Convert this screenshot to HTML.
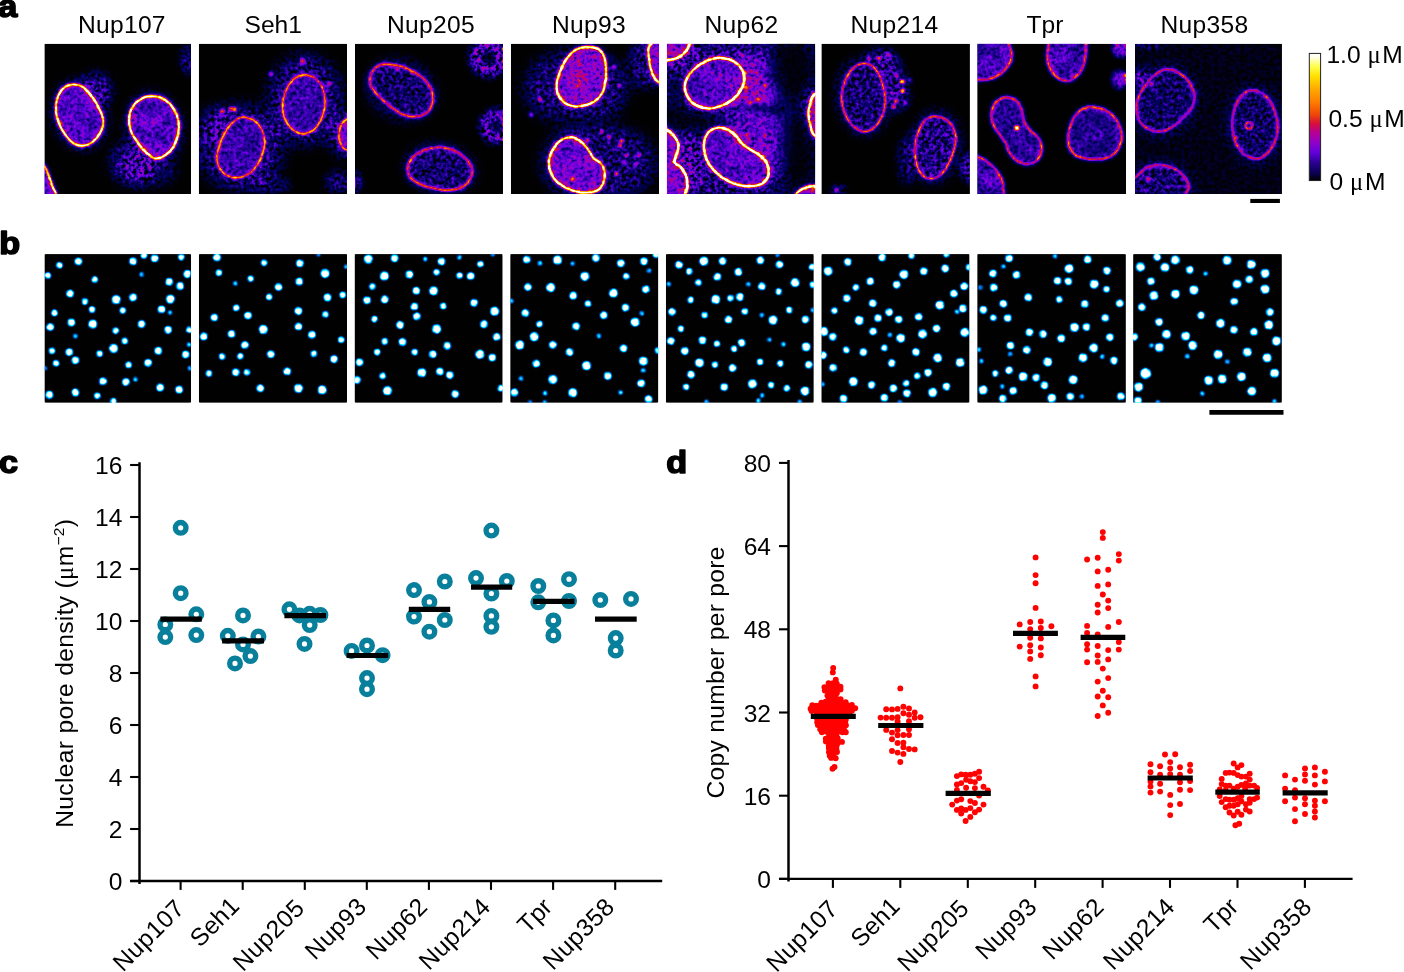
<!DOCTYPE html>
<html lang="en"><head><meta charset="utf-8"><title>Figure</title>
<style>
html,body{margin:0;padding:0;background:#fff;}
body{width:1404px;height:972px;overflow:hidden;position:relative;font-family:"Liberation Sans", Arial, Helvetica, sans-serif;}
svg{position:absolute;left:0;top:0;display:block;}
text{font-family:"Liberation Sans", Arial, Helvetica, sans-serif;fill:#000;}
</style></head><body>
<svg width="1404" height="972" viewBox="0 0 1404 972">
<defs>
<linearGradient id="fire" x1="0" y1="1" x2="0" y2="0">
<stop offset="0" stop-color="#000000"/><stop offset="0.06" stop-color="#0b0052"/><stop offset="0.14" stop-color="#2a0090"/>
<stop offset="0.22" stop-color="#6200dc"/><stop offset="0.30" stop-color="#9200c8"/><stop offset="0.38" stop-color="#b80090"/>
<stop offset="0.45" stop-color="#d8103a"/><stop offset="0.52" stop-color="#ee4808"/><stop offset="0.62" stop-color="#ff7e00"/>
<stop offset="0.72" stop-color="#ffaa00"/><stop offset="0.82" stop-color="#ffe000"/><stop offset="0.90" stop-color="#ffff50"/>
<stop offset="0.97" stop-color="#ffffe8"/><stop offset="1" stop-color="#ffffff"/>
</linearGradient>
</defs>
<rect width="1404" height="972" fill="#fff"/>
<g opacity="0.999">

<text transform="translate(-1.7 17.4) scale(1.07 1)" x="0" y="0" font-size="32" font-weight="bold" stroke="#000" stroke-width="1.6" stroke-linejoin="round">a</text>
<text transform="translate(-0.7 253.9) scale(1.07 1)" x="0" y="0" font-size="32" font-weight="bold" stroke="#000" stroke-width="1.6" stroke-linejoin="round">b</text>
<text transform="translate(-1.1 472.8) scale(1.07 1)" x="0" y="0" font-size="32" font-weight="bold" stroke="#000" stroke-width="1.6" stroke-linejoin="round">c</text>
<text transform="translate(666.3 472.5) scale(1.07 1)" x="0" y="0" font-size="32" font-weight="bold" stroke="#000" stroke-width="1.6" stroke-linejoin="round">d</text>
<text x="77.9" y="33" font-size="24.6" text-anchor="start" letter-spacing="0.3">Nup107</text>
<text x="244.5" y="33" font-size="24.6" text-anchor="start" letter-spacing="0">Seh1</text>
<text x="387.0" y="33" font-size="24.6" text-anchor="start" letter-spacing="0.3">Nup205</text>
<text x="552.0" y="33" font-size="24.6" text-anchor="start" letter-spacing="0.3">Nup93</text>
<text x="704.5" y="33" font-size="24.6" text-anchor="start" letter-spacing="0.3">Nup62</text>
<text x="850.5" y="33" font-size="24.6" text-anchor="start" letter-spacing="0.3">Nup214</text>
<text x="1026.5" y="33" font-size="24.6" text-anchor="start" letter-spacing="0">Tpr</text>
<text x="1160.5" y="33" font-size="24.6" text-anchor="start" letter-spacing="0.3">Nup358</text>
<defs>
<filter id="fireF" filterUnits="userSpaceOnUse" x="40" y="40" width="1250" height="160" color-interpolation-filters="sRGB">
<feTurbulence type="fractalNoise" baseFrequency="0.27" numOctaves="2" seed="11" result="t"/>
<feTurbulence type="fractalNoise" baseFrequency="0.07" numOctaves="1" seed="5" result="tl"/>
<feColorMatrix in="t" type="matrix" values="1 0 0 0 0 1 0 0 0 0 1 0 0 0 0 0 0 0 0 1" result="n1"/>
<feColorMatrix in="t" type="matrix" values="0 1 0 0 0 0 1 0 0 0 0 1 0 0 0 0 0 0 0 1" result="n2"/>
<feColorMatrix in="tl" type="matrix" values="1 0 0 0 0 1 0 0 0 0 1 0 0 0 0 0 0 0 0 1" result="n3"/>
<feConvolveMatrix in="SourceGraphic" order="3" kernelMatrix="1 2 1 2 4 2 1 2 1" divisor="16" edgeMode="duplicate" preserveAlpha="true" result="src"/>
<feColorMatrix in="src" type="matrix" values="1 0 0 0 0 1 0 0 0 0 1 0 0 0 0 0 0 0 0 1" result="ring"/>
<feColorMatrix in="src" type="matrix" values="0 1 0 0 0 0 1 0 0 0 0 1 0 0 0 0 0 0 0 1" result="fil"/>
<feColorMatrix in="src" type="matrix" values="0 0 1 0 0 0 0 1 0 0 0 0 1 0 0 0 0 0 0 1" result="cyt"/>
<feColorMatrix in="t" type="matrix" values="0 0 1 0 0 0 0 1 0 0 0 0 1 0 0 0 0 0 0 1" result="n4"/>
<feComposite in="ring" in2="n1" operator="arithmetic" k1="1.5" k2="0.7" k3="0" k4="0" result="ringa"/>
<feComposite in="ringa" in2="n3" operator="arithmetic" k1="0.6" k2="0.7" k3="0" k4="0" result="ringn"/>
<feComposite in="fil" in2="n4" operator="arithmetic" k1="2.2" k2="-0.1" k3="0" k4="0" result="fila"/>
<feComposite in="fila" in2="n3" operator="arithmetic" k1="1.2" k2="0.4" k3="0" k4="0" result="filn"/>
<feComposite in="cyt" in2="n2" operator="arithmetic" k1="5.2" k2="-1.6" k3="0" k4="0" result="cytn"/>
<feComposite in="ringn" in2="filn" operator="arithmetic" k1="0" k2="1" k3="1" k4="0" result="s1"/>
<feComposite in="s1" in2="cytn" operator="arithmetic" k1="0" k2="1" k3="1" k4="0" result="s2"/>
<feComponentTransfer in="s2" result="lut">
<feFuncR type="table" tableValues="0.000 0.000 0.004 0.098 0.192 0.286 0.384 0.478 0.573 0.635 0.678 0.722 0.765 0.812 0.851 0.898 0.941 0.988 1.000 1.000 1.000 1.000 1.000 1.000 1.000 1.000 1.000 1.000 1.000 1.000 1.000 1.000"/>
<feFuncG type="table" tableValues="0.000 0.000 0.000 0.000 0.000 0.000 0.000 0.000 0.000 0.000 0.000 0.000 0.000 0.055 0.137 0.224 0.310 0.396 0.459 0.522 0.576 0.631 0.686 0.745 0.804 0.859 0.918 0.973 1.000 1.000 1.000 1.000"/>
<feFuncB type="table" tableValues="0.000 0.239 0.376 0.510 0.647 0.753 0.863 0.890 0.824 0.710 0.592 0.478 0.365 0.251 0.137 0.020 0.000 0.000 0.000 0.000 0.000 0.000 0.000 0.000 0.000 0.000 0.000 0.137 0.384 0.627 0.875 1.000"/>
</feComponentTransfer>
<feComposite in="lut" in2="SourceGraphic" operator="in"/>
</filter>
<filter id="b05" x="-50%" y="-50%" width="200%" height="200%"><feGaussianBlur stdDeviation="0.5"/></filter>
<filter id="b07" x="-50%" y="-50%" width="200%" height="200%"><feGaussianBlur stdDeviation="0.7"/></filter>
<filter id="b08" x="-50%" y="-50%" width="200%" height="200%"><feGaussianBlur stdDeviation="0.8"/></filter>
<filter id="b1" x="-50%" y="-50%" width="200%" height="200%"><feGaussianBlur stdDeviation="1.0"/></filter>
<filter id="b15" x="-50%" y="-50%" width="200%" height="200%"><feGaussianBlur stdDeviation="1.5"/></filter>
<filter id="b2" x="-50%" y="-50%" width="200%" height="200%"><feGaussianBlur stdDeviation="2"/></filter>
<filter id="b3" x="-50%" y="-50%" width="200%" height="200%"><feGaussianBlur stdDeviation="3"/></filter>
<filter id="b4" x="-50%" y="-50%" width="200%" height="200%"><feGaussianBlur stdDeviation="4"/></filter>
<filter id="b5" x="-50%" y="-50%" width="200%" height="200%"><feGaussianBlur stdDeviation="5"/></filter>
<filter id="b6" x="-50%" y="-50%" width="200%" height="200%"><feGaussianBlur stdDeviation="6"/></filter>
<filter id="b7" x="-50%" y="-50%" width="200%" height="200%"><feGaussianBlur stdDeviation="7"/></filter>
<filter id="b8" x="-50%" y="-50%" width="200%" height="200%"><feGaussianBlur stdDeviation="8"/></filter>
<clipPath id="ca0"><rect x="44.4" y="43.7" width="146.60" height="150.40"/></clipPath>
<clipPath id="ca1"><rect x="198.8" y="43.7" width="148.30" height="150.40"/></clipPath>
<clipPath id="ca2"><rect x="354.9" y="43.7" width="148.15" height="150.40"/></clipPath>
<clipPath id="ca3"><rect x="510.9" y="43.7" width="148.17" height="150.40"/></clipPath>
<clipPath id="ca4"><rect x="666.9" y="43.7" width="148.40" height="150.40"/></clipPath>
<clipPath id="ca5"><rect x="821.4" y="43.7" width="148.54" height="150.40"/></clipPath>
<clipPath id="ca6"><rect x="977.2" y="43.7" width="148.84" height="150.40"/></clipPath>
<clipPath id="ca7"><rect x="1134.97" y="43.7" width="147.00" height="150.40"/></clipPath>
</defs>
<g filter="url(#fireF)">
<g clip-path="url(#ca0)">
<rect x="44.4" y="43.7" width="146.60" height="150.40" fill="rgb(0,0,0)"/>
<ellipse cx="95" cy="90" rx="17" ry="17" transform="rotate(0 95 90)" fill="#00f" fill-opacity="0.09" filter="url(#b5)" style="mix-blend-mode:screen"/>
<ellipse cx="80" cy="115" rx="29" ry="37" transform="rotate(-15 80 115)" fill="#00f" fill-opacity="0.045" filter="url(#b4)" style="mix-blend-mode:screen"/>
<ellipse cx="154" cy="128" rx="30" ry="38" transform="rotate(-15 154 128)" fill="#00f" fill-opacity="0.045" filter="url(#b4)" style="mix-blend-mode:screen"/>
<ellipse cx="133" cy="163" rx="21" ry="21" transform="rotate(0 133 163)" fill="#00f" fill-opacity="0.1" filter="url(#b6)" style="mix-blend-mode:screen"/>
<ellipse cx="150" cy="170" rx="25" ry="15" transform="rotate(0 150 170)" fill="#00f" fill-opacity="0.06" filter="url(#b6)" style="mix-blend-mode:screen"/>
<ellipse cx="188" cy="60" rx="7" ry="14" transform="rotate(0 188 60)" fill="#00f" fill-opacity="0.08" filter="url(#b3)" style="mix-blend-mode:screen"/>
<path d="M72.1 84.5C75.5 84.2 79.8 85.0 83.2 87.2C86.6 89.4 89.9 93.7 92.7 97.5C95.5 101.3 98.1 106.2 99.9 110.2C101.7 114.2 103.4 117.6 103.5 121.3C103.6 125.0 102.4 128.9 100.6 132.3C98.8 135.7 95.6 139.7 92.7 141.9C89.8 144.2 86.4 145.6 83.2 145.8C80.0 146.1 76.6 145.1 73.7 143.4C70.8 141.7 68.2 138.7 65.8 135.5C63.4 132.3 61.0 128.4 59.4 124.4C57.8 120.4 56.3 115.9 55.9 111.7C55.5 107.5 56.0 102.9 57.1 99.1C58.2 95.3 60.1 91.2 62.6 88.8C65.1 86.4 68.7 84.8 72.1 84.5Z" fill="#000" fill-opacity="0.55" filter="url(#b1)"/>
<path d="M72.1 84.5C75.5 84.2 79.8 85.0 83.2 87.2C86.6 89.4 89.9 93.7 92.7 97.5C95.5 101.3 98.1 106.2 99.9 110.2C101.7 114.2 103.4 117.6 103.5 121.3C103.6 125.0 102.4 128.9 100.6 132.3C98.8 135.7 95.6 139.7 92.7 141.9C89.8 144.2 86.4 145.6 83.2 145.8C80.0 146.1 76.6 145.1 73.7 143.4C70.8 141.7 68.2 138.7 65.8 135.5C63.4 132.3 61.0 128.4 59.4 124.4C57.8 120.4 56.3 115.9 55.9 111.7C55.5 107.5 56.0 102.9 57.1 99.1C58.2 95.3 60.1 91.2 62.6 88.8C65.1 86.4 68.7 84.8 72.1 84.5Z" fill="#0f0" fill-opacity="0.151" stroke="#0f0" stroke-opacity="0.220" stroke-width="3.6" filter="url(#b15)" style="mix-blend-mode:screen"/>
<path d="M153.0 96.2C156.7 96.3 160.6 97.0 164.0 99.1C167.4 101.2 171.2 104.9 173.6 108.6C176.0 112.3 177.8 117.1 178.6 121.3C179.4 125.5 179.1 129.7 178.3 133.9C177.5 138.1 175.7 143.0 173.6 146.6C171.5 150.2 168.5 153.3 165.6 155.3C162.7 157.3 159.3 158.9 156.1 158.5C152.9 158.1 149.8 155.8 146.6 153.0C143.4 150.2 139.7 145.6 137.1 141.9C134.5 138.2 132.2 134.8 130.8 130.8C129.4 126.8 128.7 122.1 128.9 118.1C129.2 114.1 130.1 110.3 132.3 107.0C134.5 103.7 138.5 100.1 141.9 98.3C145.3 96.5 149.3 96.1 153.0 96.2Z" fill="#000" fill-opacity="0.55" filter="url(#b1)"/>
<path d="M153.0 96.2C156.7 96.3 160.6 97.0 164.0 99.1C167.4 101.2 171.2 104.9 173.6 108.6C176.0 112.3 177.8 117.1 178.6 121.3C179.4 125.5 179.1 129.7 178.3 133.9C177.5 138.1 175.7 143.0 173.6 146.6C171.5 150.2 168.5 153.3 165.6 155.3C162.7 157.3 159.3 158.9 156.1 158.5C152.9 158.1 149.8 155.8 146.6 153.0C143.4 150.2 139.7 145.6 137.1 141.9C134.5 138.2 132.2 134.8 130.8 130.8C129.4 126.8 128.7 122.1 128.9 118.1C129.2 114.1 130.1 110.3 132.3 107.0C134.5 103.7 138.5 100.1 141.9 98.3C145.3 96.5 149.3 96.1 153.0 96.2Z" fill="#0f0" fill-opacity="0.151" stroke="#0f0" stroke-opacity="0.220" stroke-width="3.6" filter="url(#b15)" style="mix-blend-mode:screen"/>
<path d="M44.9 167.2C47.2 170.0 47.7 173.3 49.1 176.7C50.5 180.1 51.9 184.2 53.1 187.8C54.3 191.4 57.0 193.5 56.5 198.0C56.0 202.5 55.2 212.2 50.0 215.0C44.8 217.8 29.2 222.5 25.0 215.0C20.8 207.5 23.3 179.2 25.0 170.0C26.7 160.8 31.7 160.5 35.0 160.0C38.3 159.5 42.5 164.4 44.9 167.2Z" fill="#000" fill-opacity="0.55" filter="url(#b1)"/>
<path d="M44.9 167.2C47.2 170.0 47.7 173.3 49.1 176.7C50.5 180.1 51.9 184.2 53.1 187.8C54.3 191.4 57.0 193.5 56.5 198.0C56.0 202.5 55.2 212.2 50.0 215.0C44.8 217.8 29.2 222.5 25.0 215.0C20.8 207.5 23.3 179.2 25.0 170.0C26.7 160.8 31.7 160.5 35.0 160.0C38.3 159.5 42.5 164.4 44.9 167.2Z" fill="#0f0" fill-opacity="0.180" stroke="#0f0" stroke-opacity="0.220" stroke-width="3.6" filter="url(#b15)" style="mix-blend-mode:screen"/>
<path d="M72.1 84.5C75.5 84.2 79.8 85.0 83.2 87.2C86.6 89.4 89.9 93.7 92.7 97.5C95.5 101.3 98.1 106.2 99.9 110.2C101.7 114.2 103.4 117.6 103.5 121.3C103.6 125.0 102.4 128.9 100.6 132.3C98.8 135.7 95.6 139.7 92.7 141.9C89.8 144.2 86.4 145.6 83.2 145.8C80.0 146.1 76.6 145.1 73.7 143.4C70.8 141.7 68.2 138.7 65.8 135.5C63.4 132.3 61.0 128.4 59.4 124.4C57.8 120.4 56.3 115.9 55.9 111.7C55.5 107.5 56.0 102.9 57.1 99.1C58.2 95.3 60.1 91.2 62.6 88.8C65.1 86.4 68.7 84.8 72.1 84.5Z" fill="none" stroke="#f00" stroke-opacity="1.0" stroke-width="1.15" style="mix-blend-mode:screen"/>
<path d="M153.0 96.2C156.7 96.3 160.6 97.0 164.0 99.1C167.4 101.2 171.2 104.9 173.6 108.6C176.0 112.3 177.8 117.1 178.6 121.3C179.4 125.5 179.1 129.7 178.3 133.9C177.5 138.1 175.7 143.0 173.6 146.6C171.5 150.2 168.5 153.3 165.6 155.3C162.7 157.3 159.3 158.9 156.1 158.5C152.9 158.1 149.8 155.8 146.6 153.0C143.4 150.2 139.7 145.6 137.1 141.9C134.5 138.2 132.2 134.8 130.8 130.8C129.4 126.8 128.7 122.1 128.9 118.1C129.2 114.1 130.1 110.3 132.3 107.0C134.5 103.7 138.5 100.1 141.9 98.3C145.3 96.5 149.3 96.1 153.0 96.2Z" fill="none" stroke="#f00" stroke-opacity="1.0" stroke-width="1.15" style="mix-blend-mode:screen"/>
<path d="M44.9 167.2C47.2 170.0 47.7 173.3 49.1 176.7C50.5 180.1 51.9 184.2 53.1 187.8C54.3 191.4 57.0 193.5 56.5 198.0C56.0 202.5 55.2 212.2 50.0 215.0C44.8 217.8 29.2 222.5 25.0 215.0C20.8 207.5 23.3 179.2 25.0 170.0C26.7 160.8 31.7 160.5 35.0 160.0C38.3 159.5 42.5 164.4 44.9 167.2Z" fill="none" stroke="#f00" stroke-opacity="1.0" stroke-width="1.15" style="mix-blend-mode:screen"/>
</g>
<g clip-path="url(#ca1)">
<rect x="198.8" y="43.7" width="148.30" height="150.40" fill="rgb(0,0,0)"/>
<ellipse cx="241" cy="147" rx="42" ry="42" transform="rotate(0 241 147)" fill="#00f" fill-opacity="0.085" filter="url(#b7)" style="mix-blend-mode:screen"/>
<ellipse cx="305" cy="100" rx="36" ry="44" transform="rotate(0 305 100)" fill="#00f" fill-opacity="0.085" filter="url(#b7)" style="mix-blend-mode:screen"/>
<ellipse cx="343" cy="135" rx="14" ry="22" transform="rotate(0 343 135)" fill="#00f" fill-opacity="0.09" filter="url(#b5)" style="mix-blend-mode:screen"/>
<ellipse cx="270" cy="185" rx="20" ry="8" transform="rotate(0 270 185)" fill="#00f" fill-opacity="0.06" filter="url(#b4)" style="mix-blend-mode:screen"/>
<ellipse cx="338" cy="182" rx="12" ry="10" transform="rotate(0 338 182)" fill="#00f" fill-opacity="0.08" filter="url(#b4)" style="mix-blend-mode:screen"/>
<ellipse cx="215" cy="125" rx="15" ry="20" transform="rotate(0 215 125)" fill="#00f" fill-opacity="0.05" filter="url(#b5)" style="mix-blend-mode:screen"/>
<path d="M306.4 75.0C309.2 75.5 313.1 76.4 315.9 78.8C318.7 81.2 321.5 85.7 323.0 89.6C324.5 93.5 325.1 98.0 325.1 102.2C325.1 106.4 324.4 110.8 323.0 114.9C321.6 119.0 319.2 123.8 316.7 126.8C314.2 129.8 311.1 132.0 308.0 133.1C304.9 134.2 301.4 134.2 298.4 133.1C295.3 132.0 292.1 129.6 289.7 126.8C287.3 124.0 285.1 120.3 283.9 116.5C282.7 112.7 282.3 108.0 282.6 103.8C282.9 99.6 284.2 94.9 285.8 91.1C287.4 87.3 289.9 83.3 292.1 80.8C294.3 78.3 296.8 77.1 299.2 76.1C301.6 75.1 303.6 74.5 306.4 75.0Z" fill="#000" fill-opacity="0.55" filter="url(#b1)"/>
<path d="M306.4 75.0C309.2 75.5 313.1 76.4 315.9 78.8C318.7 81.2 321.5 85.7 323.0 89.6C324.5 93.5 325.1 98.0 325.1 102.2C325.1 106.4 324.4 110.8 323.0 114.9C321.6 119.0 319.2 123.8 316.7 126.8C314.2 129.8 311.1 132.0 308.0 133.1C304.9 134.2 301.4 134.2 298.4 133.1C295.3 132.0 292.1 129.6 289.7 126.8C287.3 124.0 285.1 120.3 283.9 116.5C282.7 112.7 282.3 108.0 282.6 103.8C282.9 99.6 284.2 94.9 285.8 91.1C287.4 87.3 289.9 83.3 292.1 80.8C294.3 78.3 296.8 77.1 299.2 76.1C301.6 75.1 303.6 74.5 306.4 75.0Z" fill="#0f0" fill-opacity="0.089" stroke="#0f0" stroke-opacity="0.120" stroke-width="3.6" filter="url(#b15)" style="mix-blend-mode:screen"/>
<path d="M244.6 117.3C247.6 117.4 251.3 118.7 254.1 120.5C256.9 122.3 259.4 125.1 261.2 128.4C263.0 131.7 264.5 136.2 264.8 140.3C265.1 144.4 263.9 149.1 262.8 153.0C261.7 156.9 260.2 160.6 258.0 164.0C255.8 167.4 252.5 171.3 249.3 173.6C246.1 175.8 242.6 177.1 239.0 177.5C235.4 177.9 231.1 177.3 227.9 175.9C224.7 174.5 221.8 171.6 220.0 168.8C218.2 166.0 217.0 162.7 216.8 159.3C216.6 155.9 217.6 151.8 218.6 148.2C219.6 144.6 221.0 141.1 222.6 137.6C224.2 134.1 226.0 130.4 228.2 127.4C230.4 124.4 233.1 121.4 235.8 119.7C238.5 118.0 241.6 117.2 244.6 117.3Z" fill="#000" fill-opacity="0.55" filter="url(#b1)"/>
<path d="M244.6 117.3C247.6 117.4 251.3 118.7 254.1 120.5C256.9 122.3 259.4 125.1 261.2 128.4C263.0 131.7 264.5 136.2 264.8 140.3C265.1 144.4 263.9 149.1 262.8 153.0C261.7 156.9 260.2 160.6 258.0 164.0C255.8 167.4 252.5 171.3 249.3 173.6C246.1 175.8 242.6 177.1 239.0 177.5C235.4 177.9 231.1 177.3 227.9 175.9C224.7 174.5 221.8 171.6 220.0 168.8C218.2 166.0 217.0 162.7 216.8 159.3C216.6 155.9 217.6 151.8 218.6 148.2C219.6 144.6 221.0 141.1 222.6 137.6C224.2 134.1 226.0 130.4 228.2 127.4C230.4 124.4 233.1 121.4 235.8 119.7C238.5 118.0 241.6 117.2 244.6 117.3Z" fill="#0f0" fill-opacity="0.089" stroke="#0f0" stroke-opacity="0.120" stroke-width="3.6" filter="url(#b15)" style="mix-blend-mode:screen"/>
<path d="M346.0 119.7C342.7 121.3 341.6 124.7 340.4 127.6C339.2 130.5 338.8 134.2 338.9 137.1C339.0 140.0 340.0 142.9 341.2 145.0C342.4 147.1 342.9 149.0 346.0 149.8C349.1 150.6 357.7 155.3 360.0 150.0C362.3 144.7 362.3 123.0 360.0 118.0C357.7 113.0 349.3 118.1 346.0 119.7Z" fill="#000" fill-opacity="0.55" filter="url(#b1)"/>
<path d="M346.0 119.7C342.7 121.3 341.6 124.7 340.4 127.6C339.2 130.5 338.8 134.2 338.9 137.1C339.0 140.0 340.0 142.9 341.2 145.0C342.4 147.1 342.9 149.0 346.0 149.8C349.1 150.6 357.7 155.3 360.0 150.0C362.3 144.7 362.3 123.0 360.0 118.0C357.7 113.0 349.3 118.1 346.0 119.7Z" fill="#0f0" fill-opacity="0.153" stroke="#0f0" stroke-opacity="0.120" stroke-width="3.6" filter="url(#b15)" style="mix-blend-mode:screen"/>
<path d="M306.4 75.0C309.2 75.5 313.1 76.4 315.9 78.8C318.7 81.2 321.5 85.7 323.0 89.6C324.5 93.5 325.1 98.0 325.1 102.2C325.1 106.4 324.4 110.8 323.0 114.9C321.6 119.0 319.2 123.8 316.7 126.8C314.2 129.8 311.1 132.0 308.0 133.1C304.9 134.2 301.4 134.2 298.4 133.1C295.3 132.0 292.1 129.6 289.7 126.8C287.3 124.0 285.1 120.3 283.9 116.5C282.7 112.7 282.3 108.0 282.6 103.8C282.9 99.6 284.2 94.9 285.8 91.1C287.4 87.3 289.9 83.3 292.1 80.8C294.3 78.3 296.8 77.1 299.2 76.1C301.6 75.1 303.6 74.5 306.4 75.0Z" fill="none" stroke="#f00" stroke-opacity="0.6" stroke-width="1.10" style="mix-blend-mode:screen"/>
<path d="M244.6 117.3C247.6 117.4 251.3 118.7 254.1 120.5C256.9 122.3 259.4 125.1 261.2 128.4C263.0 131.7 264.5 136.2 264.8 140.3C265.1 144.4 263.9 149.1 262.8 153.0C261.7 156.9 260.2 160.6 258.0 164.0C255.8 167.4 252.5 171.3 249.3 173.6C246.1 175.8 242.6 177.1 239.0 177.5C235.4 177.9 231.1 177.3 227.9 175.9C224.7 174.5 221.8 171.6 220.0 168.8C218.2 166.0 217.0 162.7 216.8 159.3C216.6 155.9 217.6 151.8 218.6 148.2C219.6 144.6 221.0 141.1 222.6 137.6C224.2 134.1 226.0 130.4 228.2 127.4C230.4 124.4 233.1 121.4 235.8 119.7C238.5 118.0 241.6 117.2 244.6 117.3Z" fill="none" stroke="#f00" stroke-opacity="0.6" stroke-width="1.10" style="mix-blend-mode:screen"/>
<path d="M346.0 119.7C342.7 121.3 341.6 124.7 340.4 127.6C339.2 130.5 338.8 134.2 338.9 137.1C339.0 140.0 340.0 142.9 341.2 145.0C342.4 147.1 342.9 149.0 346.0 149.8C349.1 150.6 357.7 155.3 360.0 150.0C362.3 144.7 362.3 123.0 360.0 118.0C357.7 113.0 349.3 118.1 346.0 119.7Z" fill="none" stroke="#f00" stroke-opacity="0.6" stroke-width="1.10" style="mix-blend-mode:screen"/>
<circle cx="231" cy="109" r="1.5" fill="#f00" fill-opacity="0.91" filter="url(#b1)" style="mix-blend-mode:screen"/>
<circle cx="234.5" cy="109.5" r="1.4000000000000001" fill="#f00" fill-opacity="0.85" filter="url(#b1)" style="mix-blend-mode:screen"/>
<circle cx="222.5" cy="111.5" r="1.3" fill="#f00" fill-opacity="1.00" filter="url(#b1)" style="mix-blend-mode:screen"/>
<circle cx="271" cy="74" r="1.7000000000000002" fill="#f00" fill-opacity="0.39" filter="url(#b1)" style="mix-blend-mode:screen"/>
<circle cx="303" cy="61" r="2.3000000000000003" fill="#f00" fill-opacity="0.36" filter="url(#b1)" style="mix-blend-mode:screen"/>
<circle cx="329" cy="84" r="1.4000000000000001" fill="#f00" fill-opacity="0.45" filter="url(#b1)" style="mix-blend-mode:screen"/>
</g>
<g clip-path="url(#ca2)">
<rect x="354.9" y="43.7" width="148.15" height="150.40" fill="rgb(0,0,0)"/>
<ellipse cx="401" cy="90" rx="38" ry="32" transform="rotate(25 401 90)" fill="#00f" fill-opacity="0.035" filter="url(#b4)" style="mix-blend-mode:screen"/>
<ellipse cx="440" cy="169" rx="38" ry="27" transform="rotate(10 440 169)" fill="#00f" fill-opacity="0.035" filter="url(#b4)" style="mix-blend-mode:screen"/>
<ellipse cx="356" cy="182" rx="5" ry="10" transform="rotate(0 356 182)" fill="#00f" fill-opacity="0.1" filter="url(#b3)" style="mix-blend-mode:screen"/>
<circle cx="488.5" cy="58" r="13" fill="none" stroke="#00f" stroke-width="11" stroke-opacity="0.17" filter="url(#b3)" style="mix-blend-mode:screen"/>
<circle cx="497" cy="126" r="11.5" fill="none" stroke="#00f" stroke-width="10" stroke-opacity="0.165" filter="url(#b3)" style="mix-blend-mode:screen"/>
<path d="M384.7 64.2C388.4 64.1 394.2 64.6 399.0 65.8C403.8 67.0 409.0 69.1 413.2 71.3C417.4 73.5 421.2 76.2 424.3 79.2C427.4 82.2 430.1 86.0 431.5 89.6C432.9 93.2 433.4 97.2 433.0 100.6C432.6 104.0 431.1 107.7 429.1 110.2C427.1 112.7 424.4 114.7 421.2 115.7C418.0 116.8 413.8 117.0 410.1 116.5C406.4 116.0 402.7 114.5 399.0 112.5C395.3 110.5 391.5 107.5 387.9 104.6C384.3 101.7 380.5 98.4 377.6 95.1C374.7 91.8 371.5 88.4 370.4 84.8C369.3 81.2 370.1 76.7 371.2 73.7C372.3 70.7 374.6 68.2 376.8 66.6C379.1 65.0 381.0 64.3 384.7 64.2Z" fill="#000" fill-opacity="0.55" filter="url(#b1)"/>
<path d="M384.7 64.2C388.4 64.1 394.2 64.6 399.0 65.8C403.8 67.0 409.0 69.1 413.2 71.3C417.4 73.5 421.2 76.2 424.3 79.2C427.4 82.2 430.1 86.0 431.5 89.6C432.9 93.2 433.4 97.2 433.0 100.6C432.6 104.0 431.1 107.7 429.1 110.2C427.1 112.7 424.4 114.7 421.2 115.7C418.0 116.8 413.8 117.0 410.1 116.5C406.4 116.0 402.7 114.5 399.0 112.5C395.3 110.5 391.5 107.5 387.9 104.6C384.3 101.7 380.5 98.4 377.6 95.1C374.7 91.8 371.5 88.4 370.4 84.8C369.3 81.2 370.1 76.7 371.2 73.7C372.3 70.7 374.6 68.2 376.8 66.6C379.1 65.0 381.0 64.3 384.7 64.2Z" fill="#00f" fill-opacity="0.053" filter="url(#b15)" style="mix-blend-mode:screen"/>
<path d="M384.7 64.2C388.4 64.1 394.2 64.6 399.0 65.8C403.8 67.0 409.0 69.1 413.2 71.3C417.4 73.5 421.2 76.2 424.3 79.2C427.4 82.2 430.1 86.0 431.5 89.6C432.9 93.2 433.4 97.2 433.0 100.6C432.6 104.0 431.1 107.7 429.1 110.2C427.1 112.7 424.4 114.7 421.2 115.7C418.0 116.8 413.8 117.0 410.1 116.5C406.4 116.0 402.7 114.5 399.0 112.5C395.3 110.5 391.5 107.5 387.9 104.6C384.3 101.7 380.5 98.4 377.6 95.1C374.7 91.8 371.5 88.4 370.4 84.8C369.3 81.2 370.1 76.7 371.2 73.7C372.3 70.7 374.6 68.2 376.8 66.6C379.1 65.0 381.0 64.3 384.7 64.2Z" fill="none" stroke="#0f0" stroke-opacity="0.160" stroke-width="3.8" filter="url(#b15)" style="mix-blend-mode:screen"/>
<path d="M441.8 147.4C445.5 147.8 450.4 148.8 454.4 150.6C458.3 152.4 462.6 155.5 465.5 158.5C468.4 161.5 471.1 165.4 471.9 168.8C472.7 172.2 471.9 176.1 470.3 179.1C468.7 182.1 465.8 185.2 462.4 187.0C459.0 188.8 454.2 189.9 449.7 190.2C445.2 190.5 440.1 189.5 435.4 188.6C430.6 187.7 425.3 186.4 421.2 184.7C417.1 183.0 413.1 181.0 410.9 178.3C408.6 175.7 407.6 172.1 407.7 168.8C407.8 165.5 409.4 161.4 411.6 158.5C413.9 155.6 417.8 153.1 421.2 151.4C424.6 149.7 428.9 148.9 432.3 148.2C435.7 147.5 438.1 147.0 441.8 147.4Z" fill="#000" fill-opacity="0.55" filter="url(#b1)"/>
<path d="M441.8 147.4C445.5 147.8 450.4 148.8 454.4 150.6C458.3 152.4 462.6 155.5 465.5 158.5C468.4 161.5 471.1 165.4 471.9 168.8C472.7 172.2 471.9 176.1 470.3 179.1C468.7 182.1 465.8 185.2 462.4 187.0C459.0 188.8 454.2 189.9 449.7 190.2C445.2 190.5 440.1 189.5 435.4 188.6C430.6 187.7 425.3 186.4 421.2 184.7C417.1 183.0 413.1 181.0 410.9 178.3C408.6 175.7 407.6 172.1 407.7 168.8C407.8 165.5 409.4 161.4 411.6 158.5C413.9 155.6 417.8 153.1 421.2 151.4C424.6 149.7 428.9 148.9 432.3 148.2C435.7 147.5 438.1 147.0 441.8 147.4Z" fill="#00f" fill-opacity="0.060" filter="url(#b15)" style="mix-blend-mode:screen"/>
<path d="M441.8 147.4C445.5 147.8 450.4 148.8 454.4 150.6C458.3 152.4 462.6 155.5 465.5 158.5C468.4 161.5 471.1 165.4 471.9 168.8C472.7 172.2 471.9 176.1 470.3 179.1C468.7 182.1 465.8 185.2 462.4 187.0C459.0 188.8 454.2 189.9 449.7 190.2C445.2 190.5 440.1 189.5 435.4 188.6C430.6 187.7 425.3 186.4 421.2 184.7C417.1 183.0 413.1 181.0 410.9 178.3C408.6 175.7 407.6 172.1 407.7 168.8C407.8 165.5 409.4 161.4 411.6 158.5C413.9 155.6 417.8 153.1 421.2 151.4C424.6 149.7 428.9 148.9 432.3 148.2C435.7 147.5 438.1 147.0 441.8 147.4Z" fill="none" stroke="#0f0" stroke-opacity="0.160" stroke-width="3.8" filter="url(#b15)" style="mix-blend-mode:screen"/>
<path d="M384.7 64.2C388.4 64.1 394.2 64.6 399.0 65.8C403.8 67.0 409.0 69.1 413.2 71.3C417.4 73.5 421.2 76.2 424.3 79.2C427.4 82.2 430.1 86.0 431.5 89.6C432.9 93.2 433.4 97.2 433.0 100.6C432.6 104.0 431.1 107.7 429.1 110.2C427.1 112.7 424.4 114.7 421.2 115.7C418.0 116.8 413.8 117.0 410.1 116.5C406.4 116.0 402.7 114.5 399.0 112.5C395.3 110.5 391.5 107.5 387.9 104.6C384.3 101.7 380.5 98.4 377.6 95.1C374.7 91.8 371.5 88.4 370.4 84.8C369.3 81.2 370.1 76.7 371.2 73.7C372.3 70.7 374.6 68.2 376.8 66.6C379.1 65.0 381.0 64.3 384.7 64.2Z" fill="none" stroke="#f00" stroke-opacity="0.33" stroke-width="1.50" style="mix-blend-mode:screen"/>
<path d="M441.8 147.4C445.5 147.8 450.4 148.8 454.4 150.6C458.3 152.4 462.6 155.5 465.5 158.5C468.4 161.5 471.1 165.4 471.9 168.8C472.7 172.2 471.9 176.1 470.3 179.1C468.7 182.1 465.8 185.2 462.4 187.0C459.0 188.8 454.2 189.9 449.7 190.2C445.2 190.5 440.1 189.5 435.4 188.6C430.6 187.7 425.3 186.4 421.2 184.7C417.1 183.0 413.1 181.0 410.9 178.3C408.6 175.7 407.6 172.1 407.7 168.8C407.8 165.5 409.4 161.4 411.6 158.5C413.9 155.6 417.8 153.1 421.2 151.4C424.6 149.7 428.9 148.9 432.3 148.2C435.7 147.5 438.1 147.0 441.8 147.4Z" fill="none" stroke="#f00" stroke-opacity="0.33" stroke-width="1.50" style="mix-blend-mode:screen"/>
<circle cx="397.5" cy="69" r="1.3" fill="#f00" fill-opacity="0.59" filter="url(#b1)" style="mix-blend-mode:screen"/>
<circle cx="412" cy="72" r="1.5" fill="#f00" fill-opacity="0.39" filter="url(#b1)" style="mix-blend-mode:screen"/>
</g>
<g clip-path="url(#ca3)">
<rect x="510.9" y="43.7" width="148.17" height="150.40" fill="rgb(0,0,0)"/>
<ellipse cx="577" cy="88" rx="52" ry="38" transform="rotate(0 577 88)" fill="#00f" fill-opacity="0.07" filter="url(#b7)" style="mix-blend-mode:screen"/>
<ellipse cx="598" cy="163" rx="56" ry="40" transform="rotate(0 598 163)" fill="#00f" fill-opacity="0.07" filter="url(#b7)" style="mix-blend-mode:screen"/>
<ellipse cx="648" cy="62" rx="18" ry="26" transform="rotate(0 648 62)" fill="#00f" fill-opacity="0.08" filter="url(#b5)" style="mix-blend-mode:screen"/>
<ellipse cx="582" cy="81" rx="9" ry="7" transform="rotate(0 582 81)" fill="#0f0" fill-opacity="0.12" filter="url(#b3)" style="mix-blend-mode:screen"/>
<ellipse cx="580" cy="122" rx="55" ry="5" transform="rotate(0 580 122)" fill="#000" fill-opacity="0.6" filter="url(#b4)"/>
<ellipse cx="520" cy="150" rx="9" ry="40" transform="rotate(0 520 150)" fill="#000" fill-opacity="0.7" filter="url(#b5)"/>
<ellipse cx="640" cy="110" rx="18" ry="16" transform="rotate(0 640 110)" fill="#000" fill-opacity="0.6" filter="url(#b6)"/>
<path d="M589.8 47.1C592.6 47.4 596.2 47.6 598.6 49.1C601.0 50.6 602.9 53.2 604.1 56.3C605.3 59.3 605.7 63.5 606.0 67.4C606.3 71.4 606.3 75.8 605.7 80.0C605.1 84.2 604.4 89.1 602.5 92.7C600.6 96.3 597.8 99.2 594.6 101.4C591.4 103.6 587.2 104.9 583.5 105.7C579.8 106.5 575.8 106.9 572.4 106.2C569.0 105.5 565.4 103.7 562.9 101.4C560.4 99.2 558.3 96.0 557.3 92.7C556.3 89.4 556.5 85.3 557.0 81.6C557.5 77.9 559.0 74.2 560.5 70.5C562.0 66.8 563.9 62.7 566.1 59.4C568.4 56.1 571.4 52.7 574.0 50.7C576.6 48.7 579.3 48.1 581.9 47.5C584.5 46.9 587.0 46.8 589.8 47.1Z" fill="#000" fill-opacity="0.55" filter="url(#b1)"/>
<path d="M589.8 47.1C592.6 47.4 596.2 47.6 598.6 49.1C601.0 50.6 602.9 53.2 604.1 56.3C605.3 59.3 605.7 63.5 606.0 67.4C606.3 71.4 606.3 75.8 605.7 80.0C605.1 84.2 604.4 89.1 602.5 92.7C600.6 96.3 597.8 99.2 594.6 101.4C591.4 103.6 587.2 104.9 583.5 105.7C579.8 106.5 575.8 106.9 572.4 106.2C569.0 105.5 565.4 103.7 562.9 101.4C560.4 99.2 558.3 96.0 557.3 92.7C556.3 89.4 556.5 85.3 557.0 81.6C557.5 77.9 559.0 74.2 560.5 70.5C562.0 66.8 563.9 62.7 566.1 59.4C568.4 56.1 571.4 52.7 574.0 50.7C576.6 48.7 579.3 48.1 581.9 47.5C584.5 46.9 587.0 46.8 589.8 47.1Z" fill="#0f0" fill-opacity="0.200" stroke="#0f0" stroke-opacity="0.220" stroke-width="3.6" filter="url(#b15)" style="mix-blend-mode:screen"/>
<path d="M570.8 137.1C574.2 137.1 577.4 139.0 580.3 141.1C583.2 143.2 586.0 146.9 588.3 149.8C590.5 152.7 591.7 156.2 593.8 158.5C595.9 160.8 599.1 161.1 600.9 163.3C602.7 165.6 604.2 168.7 604.6 172.0C605.0 175.3 604.4 180.1 603.3 183.1C602.2 186.1 600.3 188.6 597.8 190.2C595.3 191.8 591.7 192.3 588.3 192.6C584.9 192.9 580.9 192.6 577.2 191.8C573.5 191.0 569.6 189.5 566.1 187.8C562.6 186.1 559.1 184.1 556.5 181.5C553.9 178.9 551.8 175.4 550.5 172.0C549.2 168.6 548.5 164.6 548.9 160.9C549.2 157.2 550.8 153.1 552.6 149.8C554.4 146.5 556.7 143.2 559.7 141.1C562.7 139.0 567.4 137.1 570.8 137.1Z" fill="#000" fill-opacity="0.55" filter="url(#b1)"/>
<path d="M570.8 137.1C574.2 137.1 577.4 139.0 580.3 141.1C583.2 143.2 586.0 146.9 588.3 149.8C590.5 152.7 591.7 156.2 593.8 158.5C595.9 160.8 599.1 161.1 600.9 163.3C602.7 165.6 604.2 168.7 604.6 172.0C605.0 175.3 604.4 180.1 603.3 183.1C602.2 186.1 600.3 188.6 597.8 190.2C595.3 191.8 591.7 192.3 588.3 192.6C584.9 192.9 580.9 192.6 577.2 191.8C573.5 191.0 569.6 189.5 566.1 187.8C562.6 186.1 559.1 184.1 556.5 181.5C553.9 178.9 551.8 175.4 550.5 172.0C549.2 168.6 548.5 164.6 548.9 160.9C549.2 157.2 550.8 153.1 552.6 149.8C554.4 146.5 556.7 143.2 559.7 141.1C562.7 139.0 567.4 137.1 570.8 137.1Z" fill="#0f0" fill-opacity="0.170" stroke="#0f0" stroke-opacity="0.220" stroke-width="3.6" filter="url(#b15)" style="mix-blend-mode:screen"/>
<path d="M650.1 44.4C646.6 47.9 648.9 56.1 649.3 61.0C649.7 65.9 650.8 70.1 652.4 73.7C654.0 77.3 655.9 81.4 658.8 82.4C661.7 83.5 668.1 87.1 670.0 80.0C671.9 72.9 673.3 45.9 670.0 40.0C666.7 34.1 653.6 40.9 650.1 44.4Z" fill="#000" fill-opacity="0.55" filter="url(#b1)"/>
<path d="M650.1 44.4C646.6 47.9 648.9 56.1 649.3 61.0C649.7 65.9 650.8 70.1 652.4 73.7C654.0 77.3 655.9 81.4 658.8 82.4C661.7 83.5 668.1 87.1 670.0 80.0C671.9 72.9 673.3 45.9 670.0 40.0C666.7 34.1 653.6 40.9 650.1 44.4Z" fill="#0f0" fill-opacity="0.200" stroke="#0f0" stroke-opacity="0.220" stroke-width="3.6" filter="url(#b15)" style="mix-blend-mode:screen"/>
<path d="M589.8 47.1C592.6 47.4 596.2 47.6 598.6 49.1C601.0 50.6 602.9 53.2 604.1 56.3C605.3 59.3 605.7 63.5 606.0 67.4C606.3 71.4 606.3 75.8 605.7 80.0C605.1 84.2 604.4 89.1 602.5 92.7C600.6 96.3 597.8 99.2 594.6 101.4C591.4 103.6 587.2 104.9 583.5 105.7C579.8 106.5 575.8 106.9 572.4 106.2C569.0 105.5 565.4 103.7 562.9 101.4C560.4 99.2 558.3 96.0 557.3 92.7C556.3 89.4 556.5 85.3 557.0 81.6C557.5 77.9 559.0 74.2 560.5 70.5C562.0 66.8 563.9 62.7 566.1 59.4C568.4 56.1 571.4 52.7 574.0 50.7C576.6 48.7 579.3 48.1 581.9 47.5C584.5 46.9 587.0 46.8 589.8 47.1Z" fill="none" stroke="#f00" stroke-opacity="1.0" stroke-width="1.30" style="mix-blend-mode:screen"/>
<path d="M570.8 137.1C574.2 137.1 577.4 139.0 580.3 141.1C583.2 143.2 586.0 146.9 588.3 149.8C590.5 152.7 591.7 156.2 593.8 158.5C595.9 160.8 599.1 161.1 600.9 163.3C602.7 165.6 604.2 168.7 604.6 172.0C605.0 175.3 604.4 180.1 603.3 183.1C602.2 186.1 600.3 188.6 597.8 190.2C595.3 191.8 591.7 192.3 588.3 192.6C584.9 192.9 580.9 192.6 577.2 191.8C573.5 191.0 569.6 189.5 566.1 187.8C562.6 186.1 559.1 184.1 556.5 181.5C553.9 178.9 551.8 175.4 550.5 172.0C549.2 168.6 548.5 164.6 548.9 160.9C549.2 157.2 550.8 153.1 552.6 149.8C554.4 146.5 556.7 143.2 559.7 141.1C562.7 139.0 567.4 137.1 570.8 137.1Z" fill="none" stroke="#f00" stroke-opacity="1.0" stroke-width="1.30" style="mix-blend-mode:screen"/>
<path d="M650.1 44.4C646.6 47.9 648.9 56.1 649.3 61.0C649.7 65.9 650.8 70.1 652.4 73.7C654.0 77.3 655.9 81.4 658.8 82.4C661.7 83.5 668.1 87.1 670.0 80.0C671.9 72.9 673.3 45.9 670.0 40.0C666.7 34.1 653.6 40.9 650.1 44.4Z" fill="none" stroke="#f00" stroke-opacity="1.0" stroke-width="1.30" style="mix-blend-mode:screen"/>
<circle cx="539.9" cy="99" r="1.4000000000000001" fill="#f00" fill-opacity="0.65" filter="url(#b1)" style="mix-blend-mode:screen"/>
<circle cx="562" cy="66.5" r="1.3" fill="#f00" fill-opacity="0.52" filter="url(#b1)" style="mix-blend-mode:screen"/>
<circle cx="614.4" cy="67.4" r="1.3" fill="#f00" fill-opacity="0.52" filter="url(#b1)" style="mix-blend-mode:screen"/>
<circle cx="619.2" cy="85.6" r="1.3" fill="#f00" fill-opacity="0.59" filter="url(#b1)" style="mix-blend-mode:screen"/>
<circle cx="601.7" cy="131.5" r="1.3" fill="#f00" fill-opacity="0.52" filter="url(#b1)" style="mix-blend-mode:screen"/>
<circle cx="608.9" cy="137.1" r="1.4000000000000001" fill="#f00" fill-opacity="0.65" filter="url(#b1)" style="mix-blend-mode:screen"/>
<circle cx="587.5" cy="140.3" r="1.4000000000000001" fill="#f00" fill-opacity="0.59" filter="url(#b1)" style="mix-blend-mode:screen"/>
<circle cx="621.5" cy="141" r="1.5" fill="#f00" fill-opacity="0.72" filter="url(#b1)" style="mix-blend-mode:screen"/>
<circle cx="620" cy="145.8" r="1.4000000000000001" fill="#f00" fill-opacity="0.65" filter="url(#b1)" style="mix-blend-mode:screen"/>
<circle cx="626.6" cy="155.3" r="1.4000000000000001" fill="#f00" fill-opacity="0.65" filter="url(#b1)" style="mix-blend-mode:screen"/>
<circle cx="639" cy="155.3" r="1.3" fill="#f00" fill-opacity="0.59" filter="url(#b1)" style="mix-blend-mode:screen"/>
<circle cx="635.8" cy="164" r="1.3" fill="#f00" fill-opacity="0.59" filter="url(#b1)" style="mix-blend-mode:screen"/>
<circle cx="623.9" cy="162.5" r="1.3" fill="#f00" fill-opacity="0.52" filter="url(#b1)" style="mix-blend-mode:screen"/>
<circle cx="616.8" cy="173.6" r="1.6" fill="#f00" fill-opacity="0.52" filter="url(#b1)" style="mix-blend-mode:screen"/>
<circle cx="572.4" cy="179.1" r="1.4000000000000001" fill="#f00" fill-opacity="0.65" filter="url(#b1)" style="mix-blend-mode:screen"/>
<circle cx="531.2" cy="114.9" r="1.4000000000000001" fill="#f00" fill-opacity="0.45" filter="url(#b1)" style="mix-blend-mode:screen"/>
</g>
<g clip-path="url(#ca4)">
<rect x="666.9" y="43.7" width="148.40" height="150.40" fill="rgb(0,0,9)"/>
<ellipse cx="745" cy="75" rx="40" ry="36" transform="rotate(0 745 75)" fill="#00f" fill-opacity="0.06" filter="url(#b8)" style="mix-blend-mode:screen"/>
<ellipse cx="735" cy="160" rx="55" ry="42" transform="rotate(0 735 160)" fill="#00f" fill-opacity="0.06" filter="url(#b8)" style="mix-blend-mode:screen"/>
<ellipse cx="700" cy="85" rx="42" ry="40" transform="rotate(0 700 85)" fill="#00f" fill-opacity="0.06" filter="url(#b8)" style="mix-blend-mode:screen"/>
<ellipse cx="680" cy="170" rx="22" ry="36" transform="rotate(0 680 170)" fill="#00f" fill-opacity="0.07" filter="url(#b6)" style="mix-blend-mode:screen"/>
<ellipse cx="675" cy="50" rx="24" ry="16" transform="rotate(0 675 50)" fill="#00f" fill-opacity="0.07" filter="url(#b5)" style="mix-blend-mode:screen"/>
<ellipse cx="812" cy="115" rx="10" ry="30" transform="rotate(0 812 115)" fill="#00f" fill-opacity="0.08" filter="url(#b5)" style="mix-blend-mode:screen"/>
<ellipse cx="757" cy="86" rx="24" ry="30" transform="rotate(0 757 86)" fill="#0f0" fill-opacity="0.15" filter="url(#b7)" style="mix-blend-mode:screen"/>
<ellipse cx="760" cy="140" rx="40" ry="34" transform="rotate(0 760 140)" fill="#0f0" fill-opacity="0.11" filter="url(#b8)" style="mix-blend-mode:screen"/>
<ellipse cx="762" cy="109" rx="24" ry="5" transform="rotate(5 762 109)" fill="#000" fill-opacity="0.75" filter="url(#b3)"/>
<ellipse cx="690" cy="120" rx="40" ry="9" transform="rotate(10 690 120)" fill="#000" fill-opacity="0.9" filter="url(#b5)"/>
<ellipse cx="790" cy="70" rx="22" ry="30" transform="rotate(0 790 70)" fill="#000" fill-opacity="0.85" filter="url(#b7)"/>
<ellipse cx="797" cy="150" rx="17" ry="40" transform="rotate(0 797 150)" fill="#000" fill-opacity="0.9" filter="url(#b7)"/>
<ellipse cx="676" cy="95" rx="8" ry="22" transform="rotate(0 676 95)" fill="#000" fill-opacity="0.7" filter="url(#b5)"/>
<path d="M722.1 57.9C725.5 58.2 730.0 59.3 733.2 61.0C736.4 62.7 739.2 65.3 741.1 68.2C743.0 71.1 744.3 74.9 744.3 78.5C744.3 82.1 743.0 86.2 741.1 89.6C739.2 93.0 736.4 96.5 733.2 99.1C730.0 101.7 726.1 103.8 722.1 105.4C718.1 107.0 713.4 108.5 709.4 108.6C705.4 108.7 701.6 107.7 698.3 106.2C695.0 104.8 691.9 102.7 689.6 99.9C687.4 97.1 685.3 93.0 684.8 89.6C684.3 86.1 684.9 82.5 686.4 79.2C687.9 75.9 690.7 72.5 693.5 69.7C696.3 66.9 699.8 64.4 703.0 62.6C706.2 60.8 709.4 59.9 712.6 59.1C715.8 58.3 718.7 57.6 722.1 57.9Z" fill="#000" fill-opacity="0.55" filter="url(#b1)"/>
<path d="M722.1 57.9C725.5 58.2 730.0 59.3 733.2 61.0C736.4 62.7 739.2 65.3 741.1 68.2C743.0 71.1 744.3 74.9 744.3 78.5C744.3 82.1 743.0 86.2 741.1 89.6C739.2 93.0 736.4 96.5 733.2 99.1C730.0 101.7 726.1 103.8 722.1 105.4C718.1 107.0 713.4 108.5 709.4 108.6C705.4 108.7 701.6 107.7 698.3 106.2C695.0 104.8 691.9 102.7 689.6 99.9C687.4 97.1 685.3 93.0 684.8 89.6C684.3 86.1 684.9 82.5 686.4 79.2C687.9 75.9 690.7 72.5 693.5 69.7C696.3 66.9 699.8 64.4 703.0 62.6C706.2 60.8 709.4 59.9 712.6 59.1C715.8 58.3 718.7 57.6 722.1 57.9Z" fill="#0f0" fill-opacity="0.111" stroke="#0f0" stroke-opacity="0.250" stroke-width="4.0" filter="url(#b15)" style="mix-blend-mode:screen"/>
<path d="M718.9 127.6C721.8 127.6 725.5 128.6 728.4 130.0C731.3 131.4 733.9 133.9 736.3 136.3C738.7 138.7 740.3 141.9 742.7 144.2C745.1 146.4 747.7 148.0 750.6 149.8C753.5 151.7 757.5 153.2 760.1 155.3C762.7 157.4 765.0 159.7 766.4 162.5C767.8 165.3 768.9 169.0 768.8 172.0C768.7 175.0 767.5 178.5 765.6 180.7C763.8 182.9 760.9 184.5 757.7 185.4C754.5 186.3 750.4 186.4 746.6 186.2C742.8 185.9 738.5 185.2 734.7 183.9C730.9 182.6 727.0 180.6 723.6 178.3C720.2 176.1 716.9 173.4 714.1 170.4C711.3 167.4 708.7 163.8 707.0 160.1C705.3 156.4 704.1 152.0 703.8 148.2C703.5 144.4 704.2 140.1 705.4 137.1C706.6 134.1 708.8 131.6 711.0 130.0C713.2 128.4 716.0 127.6 718.9 127.6Z" fill="#000" fill-opacity="0.55" filter="url(#b1)"/>
<path d="M718.9 127.6C721.8 127.6 725.5 128.6 728.4 130.0C731.3 131.4 733.9 133.9 736.3 136.3C738.7 138.7 740.3 141.9 742.7 144.2C745.1 146.4 747.7 148.0 750.6 149.8C753.5 151.7 757.5 153.2 760.1 155.3C762.7 157.4 765.0 159.7 766.4 162.5C767.8 165.3 768.9 169.0 768.8 172.0C768.7 175.0 767.5 178.5 765.6 180.7C763.8 182.9 760.9 184.5 757.7 185.4C754.5 186.3 750.4 186.4 746.6 186.2C742.8 185.9 738.5 185.2 734.7 183.9C730.9 182.6 727.0 180.6 723.6 178.3C720.2 176.1 716.9 173.4 714.1 170.4C711.3 167.4 708.7 163.8 707.0 160.1C705.3 156.4 704.1 152.0 703.8 148.2C703.5 144.4 704.2 140.1 705.4 137.1C706.6 134.1 708.8 131.6 711.0 130.0C713.2 128.4 716.0 127.6 718.9 127.6Z" fill="#0f0" fill-opacity="0.111" stroke="#0f0" stroke-opacity="0.250" stroke-width="4.0" filter="url(#b15)" style="mix-blend-mode:screen"/>
<path d="M667.4 60.2C671.2 59.5 674.7 59.4 677.7 57.9C680.7 56.4 683.6 53.8 685.6 51.5C687.6 49.2 688.9 48.0 689.6 44.4C690.3 40.8 695.8 32.4 690.0 30.0C684.2 27.6 660.8 24.7 655.0 30.0C649.2 35.3 652.9 57.0 655.0 62.0C657.1 67.0 663.6 60.9 667.4 60.2Z" fill="#000" fill-opacity="0.55" filter="url(#b1)"/>
<path d="M667.4 60.2C671.2 59.5 674.7 59.4 677.7 57.9C680.7 56.4 683.6 53.8 685.6 51.5C687.6 49.2 688.9 48.0 689.6 44.4C690.3 40.8 695.8 32.4 690.0 30.0C684.2 27.6 660.8 24.7 655.0 30.0C649.2 35.3 652.9 57.0 655.0 62.0C657.1 67.0 663.6 60.9 667.4 60.2Z" fill="#0f0" fill-opacity="0.187" stroke="#0f0" stroke-opacity="0.250" stroke-width="4.0" filter="url(#b15)" style="mix-blend-mode:screen"/>
<path d="M667.4 130.0C670.5 131.2 671.9 133.0 673.7 135.5C675.6 138.0 678.1 141.6 678.5 145.0C678.9 148.4 676.8 153.2 676.1 156.1C675.4 159.0 673.7 160.7 674.5 162.5C675.3 164.3 678.9 164.8 680.9 167.2C682.9 169.6 685.3 173.3 686.4 176.7C687.5 180.1 687.5 184.9 687.2 187.8C686.9 190.7 685.3 191.3 684.8 194.2C684.3 197.1 689.0 203.2 684.0 205.0C679.0 206.8 659.8 217.8 655.0 205.0C650.2 192.2 652.9 140.5 655.0 128.0C657.1 115.5 664.3 128.8 667.4 130.0Z" fill="#000" fill-opacity="0.55" filter="url(#b1)"/>
<path d="M667.4 130.0C670.5 131.2 671.9 133.0 673.7 135.5C675.6 138.0 678.1 141.6 678.5 145.0C678.9 148.4 676.8 153.2 676.1 156.1C675.4 159.0 673.7 160.7 674.5 162.5C675.3 164.3 678.9 164.8 680.9 167.2C682.9 169.6 685.3 173.3 686.4 176.7C687.5 180.1 687.5 184.9 687.2 187.8C686.9 190.7 685.3 191.3 684.8 194.2C684.3 197.1 689.0 203.2 684.0 205.0C679.0 206.8 659.8 217.8 655.0 205.0C650.2 192.2 652.9 140.5 655.0 128.0C657.1 115.5 664.3 128.8 667.4 130.0Z" fill="#0f0" fill-opacity="0.187" stroke="#0f0" stroke-opacity="0.250" stroke-width="4.0" filter="url(#b15)" style="mix-blend-mode:screen"/>
<path d="M814.8 94.3C811.5 95.9 811.1 100.4 810.0 103.8C808.9 107.2 808.3 110.9 808.4 114.9C808.5 118.9 809.7 124.2 810.8 127.6C811.9 131.0 811.6 134.3 814.8 135.5C818.0 136.7 827.5 141.9 830.0 135.0C832.5 128.1 832.5 100.8 830.0 94.0C827.5 87.2 818.1 92.7 814.8 94.3Z" fill="#000" fill-opacity="0.55" filter="url(#b1)"/>
<path d="M814.8 94.3C811.5 95.9 811.1 100.4 810.0 103.8C808.9 107.2 808.3 110.9 808.4 114.9C808.5 118.9 809.7 124.2 810.8 127.6C811.9 131.0 811.6 134.3 814.8 135.5C818.0 136.7 827.5 141.9 830.0 135.0C832.5 128.1 832.5 100.8 830.0 94.0C827.5 87.2 818.1 92.7 814.8 94.3Z" fill="#0f0" fill-opacity="0.255" stroke="#0f0" stroke-opacity="0.250" stroke-width="4.0" filter="url(#b15)" style="mix-blend-mode:screen"/>
<path d="M796.6 193.4C797.9 191.5 800.5 189.8 802.9 188.6C805.3 187.4 808.7 186.5 810.8 186.2C812.9 185.9 814.1 184.7 815.6 187.0C817.1 189.3 823.4 197.8 820.0 200.0C816.6 202.2 798.9 201.1 795.0 200.0C791.1 198.9 795.3 195.3 796.6 193.4Z" fill="#000" fill-opacity="0.55" filter="url(#b1)"/>
<path d="M796.6 193.4C797.9 191.5 800.5 189.8 802.9 188.6C805.3 187.4 808.7 186.5 810.8 186.2C812.9 185.9 814.1 184.7 815.6 187.0C817.1 189.3 823.4 197.8 820.0 200.0C816.6 202.2 798.9 201.1 795.0 200.0C791.1 198.9 795.3 195.3 796.6 193.4Z" fill="#0f0" fill-opacity="0.255" stroke="#0f0" stroke-opacity="0.250" stroke-width="4.0" filter="url(#b15)" style="mix-blend-mode:screen"/>
<path d="M722.1 57.9C725.5 58.2 730.0 59.3 733.2 61.0C736.4 62.7 739.2 65.3 741.1 68.2C743.0 71.1 744.3 74.9 744.3 78.5C744.3 82.1 743.0 86.2 741.1 89.6C739.2 93.0 736.4 96.5 733.2 99.1C730.0 101.7 726.1 103.8 722.1 105.4C718.1 107.0 713.4 108.5 709.4 108.6C705.4 108.7 701.6 107.7 698.3 106.2C695.0 104.8 691.9 102.7 689.6 99.9C687.4 97.1 685.3 93.0 684.8 89.6C684.3 86.1 684.9 82.5 686.4 79.2C687.9 75.9 690.7 72.5 693.5 69.7C696.3 66.9 699.8 64.4 703.0 62.6C706.2 60.8 709.4 59.9 712.6 59.1C715.8 58.3 718.7 57.6 722.1 57.9Z" fill="none" stroke="#f00" stroke-opacity="1.0" stroke-width="1.50" style="mix-blend-mode:screen"/>
<path d="M718.9 127.6C721.8 127.6 725.5 128.6 728.4 130.0C731.3 131.4 733.9 133.9 736.3 136.3C738.7 138.7 740.3 141.9 742.7 144.2C745.1 146.4 747.7 148.0 750.6 149.8C753.5 151.7 757.5 153.2 760.1 155.3C762.7 157.4 765.0 159.7 766.4 162.5C767.8 165.3 768.9 169.0 768.8 172.0C768.7 175.0 767.5 178.5 765.6 180.7C763.8 182.9 760.9 184.5 757.7 185.4C754.5 186.3 750.4 186.4 746.6 186.2C742.8 185.9 738.5 185.2 734.7 183.9C730.9 182.6 727.0 180.6 723.6 178.3C720.2 176.1 716.9 173.4 714.1 170.4C711.3 167.4 708.7 163.8 707.0 160.1C705.3 156.4 704.1 152.0 703.8 148.2C703.5 144.4 704.2 140.1 705.4 137.1C706.6 134.1 708.8 131.6 711.0 130.0C713.2 128.4 716.0 127.6 718.9 127.6Z" fill="none" stroke="#f00" stroke-opacity="1.0" stroke-width="1.50" style="mix-blend-mode:screen"/>
<path d="M667.4 60.2C671.2 59.5 674.7 59.4 677.7 57.9C680.7 56.4 683.6 53.8 685.6 51.5C687.6 49.2 688.9 48.0 689.6 44.4C690.3 40.8 695.8 32.4 690.0 30.0C684.2 27.6 660.8 24.7 655.0 30.0C649.2 35.3 652.9 57.0 655.0 62.0C657.1 67.0 663.6 60.9 667.4 60.2Z" fill="none" stroke="#f00" stroke-opacity="1.0" stroke-width="1.50" style="mix-blend-mode:screen"/>
<path d="M667.4 130.0C670.5 131.2 671.9 133.0 673.7 135.5C675.6 138.0 678.1 141.6 678.5 145.0C678.9 148.4 676.8 153.2 676.1 156.1C675.4 159.0 673.7 160.7 674.5 162.5C675.3 164.3 678.9 164.8 680.9 167.2C682.9 169.6 685.3 173.3 686.4 176.7C687.5 180.1 687.5 184.9 687.2 187.8C686.9 190.7 685.3 191.3 684.8 194.2C684.3 197.1 689.0 203.2 684.0 205.0C679.0 206.8 659.8 217.8 655.0 205.0C650.2 192.2 652.9 140.5 655.0 128.0C657.1 115.5 664.3 128.8 667.4 130.0Z" fill="none" stroke="#f00" stroke-opacity="1.0" stroke-width="1.50" style="mix-blend-mode:screen"/>
<path d="M814.8 94.3C811.5 95.9 811.1 100.4 810.0 103.8C808.9 107.2 808.3 110.9 808.4 114.9C808.5 118.9 809.7 124.2 810.8 127.6C811.9 131.0 811.6 134.3 814.8 135.5C818.0 136.7 827.5 141.9 830.0 135.0C832.5 128.1 832.5 100.8 830.0 94.0C827.5 87.2 818.1 92.7 814.8 94.3Z" fill="none" stroke="#f00" stroke-opacity="1.0" stroke-width="1.50" style="mix-blend-mode:screen"/>
<path d="M796.6 193.4C797.9 191.5 800.5 189.8 802.9 188.6C805.3 187.4 808.7 186.5 810.8 186.2C812.9 185.9 814.1 184.7 815.6 187.0C817.1 189.3 823.4 197.8 820.0 200.0C816.6 202.2 798.9 201.1 795.0 200.0C791.1 198.9 795.3 195.3 796.6 193.4Z" fill="none" stroke="#f00" stroke-opacity="1.0" stroke-width="1.50" style="mix-blend-mode:screen"/>
<circle cx="757.5" cy="99.5" r="1.3" fill="#f00" fill-opacity="0.91" filter="url(#b1)" style="mix-blend-mode:screen"/>
<circle cx="750" cy="103.5" r="1.2000000000000002" fill="#f00" fill-opacity="0.78" filter="url(#b1)" style="mix-blend-mode:screen"/>
<circle cx="765.5" cy="85" r="1.2000000000000002" fill="#f00" fill-opacity="0.72" filter="url(#b1)" style="mix-blend-mode:screen"/>
<circle cx="746.5" cy="89.5" r="1.3" fill="#f00" fill-opacity="0.65" filter="url(#b1)" style="mix-blend-mode:screen"/>
<circle cx="742" cy="55.5" r="1.3" fill="#f00" fill-opacity="0.59" filter="url(#b1)" style="mix-blend-mode:screen"/>
<circle cx="748.5" cy="138.5" r="1.2000000000000002" fill="#f00" fill-opacity="0.65" filter="url(#b1)" style="mix-blend-mode:screen"/>
<circle cx="747.5" cy="134" r="1.1" fill="#f00" fill-opacity="0.59" filter="url(#b1)" style="mix-blend-mode:screen"/>
<circle cx="765" cy="136" r="1.1" fill="#f00" fill-opacity="0.52" filter="url(#b1)" style="mix-blend-mode:screen"/>
</g>
<g clip-path="url(#ca5)">
<rect x="821.4" y="43.7" width="148.54" height="150.40" fill="rgb(0,0,0)"/>
<ellipse cx="863" cy="97" rx="28" ry="40" transform="rotate(-8 863 97)" fill="#00f" fill-opacity="0.04" filter="url(#b5)" style="mix-blend-mode:screen"/>
<ellipse cx="935" cy="147" rx="27" ry="38" transform="rotate(8 935 147)" fill="#00f" fill-opacity="0.045" filter="url(#b5)" style="mix-blend-mode:screen"/>
<ellipse cx="893" cy="82" rx="13" ry="30" transform="rotate(-15 893 82)" fill="#00f" fill-opacity="0.09" filter="url(#b4)" style="mix-blend-mode:screen"/>
<ellipse cx="880" cy="58" rx="16" ry="9" transform="rotate(0 880 58)" fill="#00f" fill-opacity="0.07" filter="url(#b4)" style="mix-blend-mode:screen"/>
<ellipse cx="908" cy="160" rx="9" ry="25" transform="rotate(0 908 160)" fill="#00f" fill-opacity="0.06" filter="url(#b4)" style="mix-blend-mode:screen"/>
<ellipse cx="968" cy="168" rx="6" ry="14" transform="rotate(0 968 168)" fill="#00f" fill-opacity="0.14" filter="url(#b3)" style="mix-blend-mode:screen"/>
<ellipse cx="838" cy="190" rx="8" ry="4" transform="rotate(0 838 190)" fill="#00f" fill-opacity="0.08" filter="url(#b3)" style="mix-blend-mode:screen"/>
<path d="M863.6 63.4C866.5 63.3 869.8 64.1 872.3 65.8C874.8 67.5 876.9 70.5 878.6 73.7C880.3 76.9 881.5 80.8 882.6 84.8C883.7 88.8 884.7 93.3 885.0 97.5C885.3 101.7 885.1 106.2 884.2 110.2C883.3 114.2 881.4 118.1 879.4 121.3C877.4 124.5 874.9 127.5 872.3 129.2C869.7 130.9 866.4 131.7 863.6 131.6C860.8 131.5 858.2 130.2 855.7 128.4C853.2 126.6 850.5 123.5 848.5 120.5C846.5 117.5 845.0 113.8 843.8 110.2C842.6 106.6 841.5 102.9 841.4 99.1C841.3 95.3 842.0 91.2 843.0 87.2C844.0 83.2 845.7 78.7 847.7 75.3C849.7 71.9 852.2 68.6 854.9 66.6C857.5 64.6 860.7 63.5 863.6 63.4Z" fill="#000" fill-opacity="0.55" filter="url(#b1)"/>
<path d="M863.6 63.4C866.5 63.3 869.8 64.1 872.3 65.8C874.8 67.5 876.9 70.5 878.6 73.7C880.3 76.9 881.5 80.8 882.6 84.8C883.7 88.8 884.7 93.3 885.0 97.5C885.3 101.7 885.1 106.2 884.2 110.2C883.3 114.2 881.4 118.1 879.4 121.3C877.4 124.5 874.9 127.5 872.3 129.2C869.7 130.9 866.4 131.7 863.6 131.6C860.8 131.5 858.2 130.2 855.7 128.4C853.2 126.6 850.5 123.5 848.5 120.5C846.5 117.5 845.0 113.8 843.8 110.2C842.6 106.6 841.5 102.9 841.4 99.1C841.3 95.3 842.0 91.2 843.0 87.2C844.0 83.2 845.7 78.7 847.7 75.3C849.7 71.9 852.2 68.6 854.9 66.6C857.5 64.6 860.7 63.5 863.6 63.4Z" fill="#00f" fill-opacity="0.060" filter="url(#b15)" style="mix-blend-mode:screen"/>
<path d="M863.6 63.4C866.5 63.3 869.8 64.1 872.3 65.8C874.8 67.5 876.9 70.5 878.6 73.7C880.3 76.9 881.5 80.8 882.6 84.8C883.7 88.8 884.7 93.3 885.0 97.5C885.3 101.7 885.1 106.2 884.2 110.2C883.3 114.2 881.4 118.1 879.4 121.3C877.4 124.5 874.9 127.5 872.3 129.2C869.7 130.9 866.4 131.7 863.6 131.6C860.8 131.5 858.2 130.2 855.7 128.4C853.2 126.6 850.5 123.5 848.5 120.5C846.5 117.5 845.0 113.8 843.8 110.2C842.6 106.6 841.5 102.9 841.4 99.1C841.3 95.3 842.0 91.2 843.0 87.2C844.0 83.2 845.7 78.7 847.7 75.3C849.7 71.9 852.2 68.6 854.9 66.6C857.5 64.6 860.7 63.5 863.6 63.4Z" fill="none" stroke="#0f0" stroke-opacity="0.100" stroke-width="3.6" filter="url(#b15)" style="mix-blend-mode:screen"/>
<path d="M934.1 116.5C937.0 116.6 942.2 117.3 945.2 118.9C948.2 120.5 950.6 123.0 952.4 126.0C954.2 129.0 955.8 133.1 956.0 137.1C956.2 141.1 955.0 145.6 953.9 149.8C952.8 154.0 951.1 158.7 949.2 162.5C947.4 166.3 945.3 170.2 942.8 172.8C940.3 175.4 937.0 177.5 934.1 178.3C931.2 179.1 927.9 178.8 925.4 177.5C922.9 176.2 920.7 173.4 919.1 170.4C917.5 167.4 916.3 163.3 915.6 159.3C914.9 155.3 914.8 150.8 915.1 146.6C915.4 142.4 916.3 137.7 917.5 133.9C918.7 130.1 920.5 126.2 922.2 123.6C923.9 121.0 925.8 119.3 927.8 118.1C929.8 116.9 931.2 116.4 934.1 116.5Z" fill="#000" fill-opacity="0.55" filter="url(#b1)"/>
<path d="M934.1 116.5C937.0 116.6 942.2 117.3 945.2 118.9C948.2 120.5 950.6 123.0 952.4 126.0C954.2 129.0 955.8 133.1 956.0 137.1C956.2 141.1 955.0 145.6 953.9 149.8C952.8 154.0 951.1 158.7 949.2 162.5C947.4 166.3 945.3 170.2 942.8 172.8C940.3 175.4 937.0 177.5 934.1 178.3C931.2 179.1 927.9 178.8 925.4 177.5C922.9 176.2 920.7 173.4 919.1 170.4C917.5 167.4 916.3 163.3 915.6 159.3C914.9 155.3 914.8 150.8 915.1 146.6C915.4 142.4 916.3 137.7 917.5 133.9C918.7 130.1 920.5 126.2 922.2 123.6C923.9 121.0 925.8 119.3 927.8 118.1C929.8 116.9 931.2 116.4 934.1 116.5Z" fill="#00f" fill-opacity="0.076" filter="url(#b15)" style="mix-blend-mode:screen"/>
<path d="M934.1 116.5C937.0 116.6 942.2 117.3 945.2 118.9C948.2 120.5 950.6 123.0 952.4 126.0C954.2 129.0 955.8 133.1 956.0 137.1C956.2 141.1 955.0 145.6 953.9 149.8C952.8 154.0 951.1 158.7 949.2 162.5C947.4 166.3 945.3 170.2 942.8 172.8C940.3 175.4 937.0 177.5 934.1 178.3C931.2 179.1 927.9 178.8 925.4 177.5C922.9 176.2 920.7 173.4 919.1 170.4C917.5 167.4 916.3 163.3 915.6 159.3C914.9 155.3 914.8 150.8 915.1 146.6C915.4 142.4 916.3 137.7 917.5 133.9C918.7 130.1 920.5 126.2 922.2 123.6C923.9 121.0 925.8 119.3 927.8 118.1C929.8 116.9 931.2 116.4 934.1 116.5Z" fill="none" stroke="#0f0" stroke-opacity="0.100" stroke-width="3.6" filter="url(#b15)" style="mix-blend-mode:screen"/>
<path d="M863.6 63.4C866.5 63.3 869.8 64.1 872.3 65.8C874.8 67.5 876.9 70.5 878.6 73.7C880.3 76.9 881.5 80.8 882.6 84.8C883.7 88.8 884.7 93.3 885.0 97.5C885.3 101.7 885.1 106.2 884.2 110.2C883.3 114.2 881.4 118.1 879.4 121.3C877.4 124.5 874.9 127.5 872.3 129.2C869.7 130.9 866.4 131.7 863.6 131.6C860.8 131.5 858.2 130.2 855.7 128.4C853.2 126.6 850.5 123.5 848.5 120.5C846.5 117.5 845.0 113.8 843.8 110.2C842.6 106.6 841.5 102.9 841.4 99.1C841.3 95.3 842.0 91.2 843.0 87.2C844.0 83.2 845.7 78.7 847.7 75.3C849.7 71.9 852.2 68.6 854.9 66.6C857.5 64.6 860.7 63.5 863.6 63.4Z" fill="none" stroke="#f00" stroke-opacity="0.48" stroke-width="1.10" style="mix-blend-mode:screen"/>
<path d="M934.1 116.5C937.0 116.6 942.2 117.3 945.2 118.9C948.2 120.5 950.6 123.0 952.4 126.0C954.2 129.0 955.8 133.1 956.0 137.1C956.2 141.1 955.0 145.6 953.9 149.8C952.8 154.0 951.1 158.7 949.2 162.5C947.4 166.3 945.3 170.2 942.8 172.8C940.3 175.4 937.0 177.5 934.1 178.3C931.2 179.1 927.9 178.8 925.4 177.5C922.9 176.2 920.7 173.4 919.1 170.4C917.5 167.4 916.3 163.3 915.6 159.3C914.9 155.3 914.8 150.8 915.1 146.6C915.4 142.4 916.3 137.7 917.5 133.9C918.7 130.1 920.5 126.2 922.2 123.6C923.9 121.0 925.8 119.3 927.8 118.1C929.8 116.9 931.2 116.4 934.1 116.5Z" fill="none" stroke="#f00" stroke-opacity="0.48" stroke-width="1.10" style="mix-blend-mode:screen"/>
<circle cx="902.4" cy="81.6" r="1.6" fill="#f00" fill-opacity="1.00" filter="url(#b1)" style="mix-blend-mode:screen"/>
<circle cx="902.4" cy="91.1" r="1.6" fill="#f00" fill-opacity="1.00" filter="url(#b1)" style="mix-blend-mode:screen"/>
<circle cx="895.8" cy="101.1" r="1.5" fill="#f00" fill-opacity="0.85" filter="url(#b1)" style="mix-blend-mode:screen"/>
<circle cx="893.7" cy="106.7" r="1.4000000000000001" fill="#f00" fill-opacity="0.78" filter="url(#b1)" style="mix-blend-mode:screen"/>
<circle cx="878.6" cy="58.6" r="1.5" fill="#f00" fill-opacity="0.52" filter="url(#b1)" style="mix-blend-mode:screen"/>
<circle cx="869.1" cy="58.6" r="1.5" fill="#f00" fill-opacity="0.45" filter="url(#b1)" style="mix-blend-mode:screen"/>
<circle cx="888.9" cy="55.5" r="1.3" fill="#f00" fill-opacity="0.52" filter="url(#b1)" style="mix-blend-mode:screen"/>
<circle cx="896.1" cy="75.3" r="1.6" fill="#f00" fill-opacity="0.39" filter="url(#b1)" style="mix-blend-mode:screen"/>
<circle cx="909.6" cy="79.7" r="1.3" fill="#f00" fill-opacity="0.39" filter="url(#b1)" style="mix-blend-mode:screen"/>
<circle cx="891.3" cy="92.7" r="1.4000000000000001" fill="#f00" fill-opacity="0.39" filter="url(#b1)" style="mix-blend-mode:screen"/>
<circle cx="905.6" cy="102.2" r="1.3" fill="#f00" fill-opacity="0.39" filter="url(#b1)" style="mix-blend-mode:screen"/>
<circle cx="836.6" cy="190.2" r="1.7000000000000002" fill="#f00" fill-opacity="0.33" filter="url(#b1)" style="mix-blend-mode:screen"/>
</g>
<g clip-path="url(#ca6)">
<rect x="977.2" y="43.7" width="148.84" height="150.40" fill="rgb(0,0,0)"/>
<ellipse cx="1120.8" cy="48" rx="8" ry="9" transform="rotate(0 1120.8 48)" fill="#0f0" fill-opacity="0.24" filter="url(#b2)" style="mix-blend-mode:screen"/>
<ellipse cx="1120" cy="79.5" rx="7.5" ry="9" transform="rotate(0 1120 79.5)" fill="#0f0" fill-opacity="0.22" filter="url(#b2)" style="mix-blend-mode:screen"/>
<path d="M1009.1 44.4C1009.6 48.5 1011.8 51.4 1011.8 54.7C1011.8 58.0 1010.8 61.2 1009.1 64.2C1007.5 67.2 1004.9 70.5 1001.9 72.9C998.9 75.3 994.8 77.3 990.9 78.5C987.0 79.7 982.5 79.8 978.2 80.0C973.9 80.2 967.2 88.3 965.0 80.0C962.8 71.7 957.7 38.3 965.0 30.0C972.3 21.7 1001.6 27.6 1009.0 30.0C1016.4 32.4 1008.6 40.3 1009.1 44.4Z" fill="#000" fill-opacity="0.55" filter="url(#b1)"/>
<path d="M1009.1 44.4C1009.6 48.5 1011.8 51.4 1011.8 54.7C1011.8 58.0 1010.8 61.2 1009.1 64.2C1007.5 67.2 1004.9 70.5 1001.9 72.9C998.9 75.3 994.8 77.3 990.9 78.5C987.0 79.7 982.5 79.8 978.2 80.0C973.9 80.2 967.2 88.3 965.0 80.0C962.8 71.7 957.7 38.3 965.0 30.0C972.3 21.7 1001.6 27.6 1009.0 30.0C1016.4 32.4 1008.6 40.3 1009.1 44.4Z" fill="#0f0" fill-opacity="0.136" stroke="#0f0" stroke-opacity="0.150" stroke-width="3.6" filter="url(#b15)" style="mix-blend-mode:screen"/>
<path d="M1048.7 44.4C1048.5 48.8 1047.0 52.5 1047.1 56.3C1047.2 60.1 1048.0 64.1 1049.5 67.4C1051.0 70.7 1053.2 73.9 1055.8 76.1C1058.4 78.3 1062.1 80.5 1065.3 80.8C1068.5 81.1 1072.1 79.7 1074.9 77.7C1077.7 75.7 1080.3 72.2 1082.0 68.9C1083.7 65.6 1084.5 62.0 1085.2 57.9C1085.9 53.8 1085.9 49.0 1086.0 44.4C1086.1 39.8 1092.3 32.4 1086.0 30.0C1079.7 27.6 1054.2 27.6 1048.0 30.0C1041.8 32.4 1048.9 40.0 1048.7 44.4Z" fill="#000" fill-opacity="0.55" filter="url(#b1)"/>
<path d="M1048.7 44.4C1048.5 48.8 1047.0 52.5 1047.1 56.3C1047.2 60.1 1048.0 64.1 1049.5 67.4C1051.0 70.7 1053.2 73.9 1055.8 76.1C1058.4 78.3 1062.1 80.5 1065.3 80.8C1068.5 81.1 1072.1 79.7 1074.9 77.7C1077.7 75.7 1080.3 72.2 1082.0 68.9C1083.7 65.6 1084.5 62.0 1085.2 57.9C1085.9 53.8 1085.9 49.0 1086.0 44.4C1086.1 39.8 1092.3 32.4 1086.0 30.0C1079.7 27.6 1054.2 27.6 1048.0 30.0C1041.8 32.4 1048.9 40.0 1048.7 44.4Z" fill="#0f0" fill-opacity="0.145" stroke="#0f0" stroke-opacity="0.150" stroke-width="3.6" filter="url(#b15)" style="mix-blend-mode:screen"/>
<path d="M1009.1 97.5C1011.7 98.0 1014.9 99.3 1017.0 101.4C1019.1 103.5 1020.6 106.9 1021.8 110.2C1023.0 113.5 1022.8 118.0 1024.1 121.3C1025.4 124.6 1027.5 127.4 1029.7 130.0C1032.0 132.6 1035.6 134.3 1037.6 137.1C1039.6 139.9 1041.2 143.4 1041.6 146.6C1042.0 149.8 1041.3 153.4 1040.0 156.1C1038.7 158.8 1036.1 161.2 1033.6 162.5C1031.1 163.8 1027.8 164.4 1024.9 164.0C1022.0 163.6 1018.8 162.1 1016.2 160.1C1013.6 158.1 1010.8 155.0 1009.1 152.2C1007.4 149.4 1007.4 146.2 1005.9 143.4C1004.4 140.6 1002.4 138.4 1000.4 135.5C998.4 132.6 995.5 129.4 994.0 126.0C992.5 122.6 991.3 118.5 991.3 114.9C991.3 111.3 992.4 107.3 994.0 104.6C995.6 101.9 998.7 99.9 1001.2 98.7C1003.7 97.5 1006.5 97.0 1009.1 97.5Z" fill="#000" fill-opacity="0.55" filter="url(#b1)"/>
<path d="M1009.1 97.5C1011.7 98.0 1014.9 99.3 1017.0 101.4C1019.1 103.5 1020.6 106.9 1021.8 110.2C1023.0 113.5 1022.8 118.0 1024.1 121.3C1025.4 124.6 1027.5 127.4 1029.7 130.0C1032.0 132.6 1035.6 134.3 1037.6 137.1C1039.6 139.9 1041.2 143.4 1041.6 146.6C1042.0 149.8 1041.3 153.4 1040.0 156.1C1038.7 158.8 1036.1 161.2 1033.6 162.5C1031.1 163.8 1027.8 164.4 1024.9 164.0C1022.0 163.6 1018.8 162.1 1016.2 160.1C1013.6 158.1 1010.8 155.0 1009.1 152.2C1007.4 149.4 1007.4 146.2 1005.9 143.4C1004.4 140.6 1002.4 138.4 1000.4 135.5C998.4 132.6 995.5 129.4 994.0 126.0C992.5 122.6 991.3 118.5 991.3 114.9C991.3 111.3 992.4 107.3 994.0 104.6C995.6 101.9 998.7 99.9 1001.2 98.7C1003.7 97.5 1006.5 97.0 1009.1 97.5Z" fill="#0f0" fill-opacity="0.111" stroke="#0f0" stroke-opacity="0.150" stroke-width="3.6" filter="url(#b15)" style="mix-blend-mode:screen"/>
<path d="M1090.7 107.0C1094.0 107.1 1099.6 107.8 1103.4 109.4C1107.2 111.0 1110.9 113.5 1113.7 116.5C1116.5 119.5 1118.7 123.9 1120.0 127.6C1121.3 131.3 1122.0 135.0 1121.6 138.7C1121.2 142.4 1119.7 146.8 1117.7 149.8C1115.7 152.8 1112.9 155.3 1109.7 156.9C1106.5 158.5 1102.5 159.0 1098.6 159.3C1094.6 159.6 1089.8 159.2 1086.0 158.5C1082.2 157.8 1078.4 157.3 1075.6 155.3C1072.8 153.3 1070.5 149.9 1069.3 146.6C1068.1 143.3 1067.9 139.2 1068.2 135.5C1068.5 131.8 1069.5 128.0 1070.9 124.4C1072.3 120.8 1074.3 116.7 1076.4 114.1C1078.5 111.5 1081.2 109.8 1083.6 108.6C1086.0 107.4 1087.4 106.9 1090.7 107.0Z" fill="#000" fill-opacity="0.55" filter="url(#b1)"/>
<path d="M1090.7 107.0C1094.0 107.1 1099.6 107.8 1103.4 109.4C1107.2 111.0 1110.9 113.5 1113.7 116.5C1116.5 119.5 1118.7 123.9 1120.0 127.6C1121.3 131.3 1122.0 135.0 1121.6 138.7C1121.2 142.4 1119.7 146.8 1117.7 149.8C1115.7 152.8 1112.9 155.3 1109.7 156.9C1106.5 158.5 1102.5 159.0 1098.6 159.3C1094.6 159.6 1089.8 159.2 1086.0 158.5C1082.2 157.8 1078.4 157.3 1075.6 155.3C1072.8 153.3 1070.5 149.9 1069.3 146.6C1068.1 143.3 1067.9 139.2 1068.2 135.5C1068.5 131.8 1069.5 128.0 1070.9 124.4C1072.3 120.8 1074.3 116.7 1076.4 114.1C1078.5 111.5 1081.2 109.8 1083.6 108.6C1086.0 107.4 1087.4 106.9 1090.7 107.0Z" fill="#0f0" fill-opacity="0.111" stroke="#0f0" stroke-opacity="0.150" stroke-width="3.6" filter="url(#b15)" style="mix-blend-mode:screen"/>
<path d="M977.4 156.9C980.9 157.9 983.1 158.8 986.1 160.9C989.1 163.0 993.0 166.4 995.6 169.6C998.2 172.8 1000.6 176.1 1001.9 179.9C1003.2 183.7 1003.3 188.4 1003.5 192.6C1003.7 196.8 1009.4 202.9 1003.0 205.0C996.6 207.1 971.3 213.3 965.0 205.0C958.7 196.7 962.9 163.0 965.0 155.0C967.1 147.0 973.9 155.9 977.4 156.9Z" fill="#000" fill-opacity="0.55" filter="url(#b1)"/>
<path d="M977.4 156.9C980.9 157.9 983.1 158.8 986.1 160.9C989.1 163.0 993.0 166.4 995.6 169.6C998.2 172.8 1000.6 176.1 1001.9 179.9C1003.2 183.7 1003.3 188.4 1003.5 192.6C1003.7 196.8 1009.4 202.9 1003.0 205.0C996.6 207.1 971.3 213.3 965.0 205.0C958.7 196.7 962.9 163.0 965.0 155.0C967.1 147.0 973.9 155.9 977.4 156.9Z" fill="#0f0" fill-opacity="0.136" stroke="#0f0" stroke-opacity="0.150" stroke-width="3.6" filter="url(#b15)" style="mix-blend-mode:screen"/>
<path d="M1009.1 44.4C1009.6 48.5 1011.8 51.4 1011.8 54.7C1011.8 58.0 1010.8 61.2 1009.1 64.2C1007.5 67.2 1004.9 70.5 1001.9 72.9C998.9 75.3 994.8 77.3 990.9 78.5C987.0 79.7 982.5 79.8 978.2 80.0C973.9 80.2 967.2 88.3 965.0 80.0C962.8 71.7 957.7 38.3 965.0 30.0C972.3 21.7 1001.6 27.6 1009.0 30.0C1016.4 32.4 1008.6 40.3 1009.1 44.4Z" fill="none" stroke="#f00" stroke-opacity="0.33" stroke-width="1.40" style="mix-blend-mode:screen"/>
<path d="M1048.7 44.4C1048.5 48.8 1047.0 52.5 1047.1 56.3C1047.2 60.1 1048.0 64.1 1049.5 67.4C1051.0 70.7 1053.2 73.9 1055.8 76.1C1058.4 78.3 1062.1 80.5 1065.3 80.8C1068.5 81.1 1072.1 79.7 1074.9 77.7C1077.7 75.7 1080.3 72.2 1082.0 68.9C1083.7 65.6 1084.5 62.0 1085.2 57.9C1085.9 53.8 1085.9 49.0 1086.0 44.4C1086.1 39.8 1092.3 32.4 1086.0 30.0C1079.7 27.6 1054.2 27.6 1048.0 30.0C1041.8 32.4 1048.9 40.0 1048.7 44.4Z" fill="none" stroke="#f00" stroke-opacity="0.33" stroke-width="1.40" style="mix-blend-mode:screen"/>
<path d="M1009.1 97.5C1011.7 98.0 1014.9 99.3 1017.0 101.4C1019.1 103.5 1020.6 106.9 1021.8 110.2C1023.0 113.5 1022.8 118.0 1024.1 121.3C1025.4 124.6 1027.5 127.4 1029.7 130.0C1032.0 132.6 1035.6 134.3 1037.6 137.1C1039.6 139.9 1041.2 143.4 1041.6 146.6C1042.0 149.8 1041.3 153.4 1040.0 156.1C1038.7 158.8 1036.1 161.2 1033.6 162.5C1031.1 163.8 1027.8 164.4 1024.9 164.0C1022.0 163.6 1018.8 162.1 1016.2 160.1C1013.6 158.1 1010.8 155.0 1009.1 152.2C1007.4 149.4 1007.4 146.2 1005.9 143.4C1004.4 140.6 1002.4 138.4 1000.4 135.5C998.4 132.6 995.5 129.4 994.0 126.0C992.5 122.6 991.3 118.5 991.3 114.9C991.3 111.3 992.4 107.3 994.0 104.6C995.6 101.9 998.7 99.9 1001.2 98.7C1003.7 97.5 1006.5 97.0 1009.1 97.5Z" fill="none" stroke="#f00" stroke-opacity="0.33" stroke-width="1.40" style="mix-blend-mode:screen"/>
<path d="M1090.7 107.0C1094.0 107.1 1099.6 107.8 1103.4 109.4C1107.2 111.0 1110.9 113.5 1113.7 116.5C1116.5 119.5 1118.7 123.9 1120.0 127.6C1121.3 131.3 1122.0 135.0 1121.6 138.7C1121.2 142.4 1119.7 146.8 1117.7 149.8C1115.7 152.8 1112.9 155.3 1109.7 156.9C1106.5 158.5 1102.5 159.0 1098.6 159.3C1094.6 159.6 1089.8 159.2 1086.0 158.5C1082.2 157.8 1078.4 157.3 1075.6 155.3C1072.8 153.3 1070.5 149.9 1069.3 146.6C1068.1 143.3 1067.9 139.2 1068.2 135.5C1068.5 131.8 1069.5 128.0 1070.9 124.4C1072.3 120.8 1074.3 116.7 1076.4 114.1C1078.5 111.5 1081.2 109.8 1083.6 108.6C1086.0 107.4 1087.4 106.9 1090.7 107.0Z" fill="none" stroke="#f00" stroke-opacity="0.33" stroke-width="1.40" style="mix-blend-mode:screen"/>
<path d="M977.4 156.9C980.9 157.9 983.1 158.8 986.1 160.9C989.1 163.0 993.0 166.4 995.6 169.6C998.2 172.8 1000.6 176.1 1001.9 179.9C1003.2 183.7 1003.3 188.4 1003.5 192.6C1003.7 196.8 1009.4 202.9 1003.0 205.0C996.6 207.1 971.3 213.3 965.0 205.0C958.7 196.7 962.9 163.0 965.0 155.0C967.1 147.0 973.9 155.9 977.4 156.9Z" fill="none" stroke="#f00" stroke-opacity="0.33" stroke-width="1.40" style="mix-blend-mode:screen"/>
<circle cx="1017" cy="127.9" r="1.9000000000000001" fill="#f00" fill-opacity="1.00" filter="url(#b1)" style="mix-blend-mode:screen"/>
<circle cx="1124.5" cy="75" r="1.6" fill="#f00" fill-opacity="0.52" filter="url(#b1)" style="mix-blend-mode:screen"/>
</g>
<g clip-path="url(#ca7)">
<rect x="1134.97" y="43.7" width="147.00" height="150.40" fill="rgb(0,0,3)"/>
<ellipse cx="1163" cy="100" rx="36" ry="38" transform="rotate(30 1163 100)" fill="#00f" fill-opacity="0.03" filter="url(#b4)" style="mix-blend-mode:screen"/>
<ellipse cx="1255" cy="125" rx="30" ry="40" transform="rotate(-5 1255 125)" fill="#00f" fill-opacity="0.03" filter="url(#b4)" style="mix-blend-mode:screen"/>
<ellipse cx="1160" cy="190" rx="36" ry="30" transform="rotate(0 1160 190)" fill="#00f" fill-opacity="0.03" filter="url(#b4)" style="mix-blend-mode:screen"/>
<ellipse cx="1140" cy="78" rx="7" ry="8" transform="rotate(0 1140 78)" fill="#00f" fill-opacity="0.12" filter="url(#b3)" style="mix-blend-mode:screen"/>
<ellipse cx="1150" cy="45" rx="14" ry="3" transform="rotate(0 1150 45)" fill="#00f" fill-opacity="0.08" filter="url(#b2)" style="mix-blend-mode:screen"/>
<path d="M1171.6 69.7C1174.8 70.5 1179.4 72.7 1182.7 75.3C1186.0 77.9 1189.4 82.0 1191.4 85.6C1193.4 89.2 1194.5 93.1 1194.6 96.7C1194.7 100.3 1193.9 103.7 1192.2 107.0C1190.5 110.3 1187.2 113.5 1184.3 116.5C1181.4 119.5 1178.2 122.8 1174.8 125.2C1171.4 127.6 1167.4 129.9 1163.7 130.8C1160.0 131.7 1156.0 131.7 1152.6 130.8C1149.2 129.9 1145.6 127.6 1143.1 125.2C1140.6 122.8 1138.6 119.8 1137.5 116.5C1136.4 113.2 1136.0 109.1 1136.4 105.4C1136.8 101.7 1138.1 98.0 1139.9 94.3C1141.7 90.6 1144.6 86.5 1147.1 83.2C1149.6 79.9 1152.2 76.7 1155.0 74.5C1157.8 72.3 1160.9 71.0 1163.7 70.2C1166.5 69.4 1168.4 68.9 1171.6 69.7Z" fill="#000" fill-opacity="0.55" filter="url(#b1)"/>
<path d="M1171.6 69.7C1174.8 70.5 1179.4 72.7 1182.7 75.3C1186.0 77.9 1189.4 82.0 1191.4 85.6C1193.4 89.2 1194.5 93.1 1194.6 96.7C1194.7 100.3 1193.9 103.7 1192.2 107.0C1190.5 110.3 1187.2 113.5 1184.3 116.5C1181.4 119.5 1178.2 122.8 1174.8 125.2C1171.4 127.6 1167.4 129.9 1163.7 130.8C1160.0 131.7 1156.0 131.7 1152.6 130.8C1149.2 129.9 1145.6 127.6 1143.1 125.2C1140.6 122.8 1138.6 119.8 1137.5 116.5C1136.4 113.2 1136.0 109.1 1136.4 105.4C1136.8 101.7 1138.1 98.0 1139.9 94.3C1141.7 90.6 1144.6 86.5 1147.1 83.2C1149.6 79.9 1152.2 76.7 1155.0 74.5C1157.8 72.3 1160.9 71.0 1163.7 70.2C1166.5 69.4 1168.4 68.9 1171.6 69.7Z" fill="#00f" fill-opacity="0.047" filter="url(#b15)" style="mix-blend-mode:screen"/>
<path d="M1171.6 69.7C1174.8 70.5 1179.4 72.7 1182.7 75.3C1186.0 77.9 1189.4 82.0 1191.4 85.6C1193.4 89.2 1194.5 93.1 1194.6 96.7C1194.7 100.3 1193.9 103.7 1192.2 107.0C1190.5 110.3 1187.2 113.5 1184.3 116.5C1181.4 119.5 1178.2 122.8 1174.8 125.2C1171.4 127.6 1167.4 129.9 1163.7 130.8C1160.0 131.7 1156.0 131.7 1152.6 130.8C1149.2 129.9 1145.6 127.6 1143.1 125.2C1140.6 122.8 1138.6 119.8 1137.5 116.5C1136.4 113.2 1136.0 109.1 1136.4 105.4C1136.8 101.7 1138.1 98.0 1139.9 94.3C1141.7 90.6 1144.6 86.5 1147.1 83.2C1149.6 79.9 1152.2 76.7 1155.0 74.5C1157.8 72.3 1160.9 71.0 1163.7 70.2C1166.5 69.4 1168.4 68.9 1171.6 69.7Z" fill="none" stroke="#0f0" stroke-opacity="0.120" stroke-width="3.4" filter="url(#b15)" style="mix-blend-mode:screen"/>
<path d="M1252.5 90.3C1255.8 90.4 1260.4 92.0 1263.6 94.3C1266.8 96.5 1269.4 100.1 1271.5 103.8C1273.6 107.5 1275.2 112.3 1276.2 116.5C1277.2 120.7 1278.0 125.0 1277.8 129.2C1277.5 133.4 1276.3 138.1 1274.7 141.9C1273.1 145.7 1271.0 149.4 1268.3 152.2C1265.6 155.0 1262.1 157.7 1258.8 158.5C1255.5 159.3 1251.7 158.3 1248.5 156.9C1245.3 155.5 1242.2 152.8 1239.8 149.8C1237.4 146.8 1235.5 142.7 1234.2 138.7C1232.9 134.7 1232.3 130.2 1232.2 126.0C1232.1 121.8 1232.5 117.4 1233.4 113.3C1234.3 109.2 1235.7 104.7 1237.4 101.4C1239.1 98.1 1241.2 95.3 1243.7 93.5C1246.2 91.7 1249.2 90.2 1252.5 90.3Z" fill="#000" fill-opacity="0.55" filter="url(#b1)"/>
<path d="M1252.5 90.3C1255.8 90.4 1260.4 92.0 1263.6 94.3C1266.8 96.5 1269.4 100.1 1271.5 103.8C1273.6 107.5 1275.2 112.3 1276.2 116.5C1277.2 120.7 1278.0 125.0 1277.8 129.2C1277.5 133.4 1276.3 138.1 1274.7 141.9C1273.1 145.7 1271.0 149.4 1268.3 152.2C1265.6 155.0 1262.1 157.7 1258.8 158.5C1255.5 159.3 1251.7 158.3 1248.5 156.9C1245.3 155.5 1242.2 152.8 1239.8 149.8C1237.4 146.8 1235.5 142.7 1234.2 138.7C1232.9 134.7 1232.3 130.2 1232.2 126.0C1232.1 121.8 1232.5 117.4 1233.4 113.3C1234.3 109.2 1235.7 104.7 1237.4 101.4C1239.1 98.1 1241.2 95.3 1243.7 93.5C1246.2 91.7 1249.2 90.2 1252.5 90.3Z" fill="#00f" fill-opacity="0.047" filter="url(#b15)" style="mix-blend-mode:screen"/>
<path d="M1252.5 90.3C1255.8 90.4 1260.4 92.0 1263.6 94.3C1266.8 96.5 1269.4 100.1 1271.5 103.8C1273.6 107.5 1275.2 112.3 1276.2 116.5C1277.2 120.7 1278.0 125.0 1277.8 129.2C1277.5 133.4 1276.3 138.1 1274.7 141.9C1273.1 145.7 1271.0 149.4 1268.3 152.2C1265.6 155.0 1262.1 157.7 1258.8 158.5C1255.5 159.3 1251.7 158.3 1248.5 156.9C1245.3 155.5 1242.2 152.8 1239.8 149.8C1237.4 146.8 1235.5 142.7 1234.2 138.7C1232.9 134.7 1232.3 130.2 1232.2 126.0C1232.1 121.8 1232.5 117.4 1233.4 113.3C1234.3 109.2 1235.7 104.7 1237.4 101.4C1239.1 98.1 1241.2 95.3 1243.7 93.5C1246.2 91.7 1249.2 90.2 1252.5 90.3Z" fill="none" stroke="#0f0" stroke-opacity="0.120" stroke-width="3.4" filter="url(#b15)" style="mix-blend-mode:screen"/>
<path d="M1135.5 177.5C1138.8 176.0 1141.3 170.9 1144.7 168.8C1148.1 166.7 1151.8 165.2 1155.8 164.8C1159.8 164.4 1164.5 165.2 1168.5 166.4C1172.5 167.6 1176.6 169.8 1179.6 172.0C1182.6 174.2 1185.2 177.1 1186.7 179.9C1188.2 182.7 1188.4 186.3 1188.3 188.6C1188.2 190.9 1186.5 191.1 1185.9 193.8C1185.4 196.5 1195.2 203.1 1185.0 205.0C1174.8 206.9 1135.0 209.5 1125.0 205.0C1115.0 200.5 1123.2 182.6 1125.0 178.0C1126.8 173.4 1132.2 179.0 1135.5 177.5Z" fill="#000" fill-opacity="0.55" filter="url(#b1)"/>
<path d="M1135.5 177.5C1138.8 176.0 1141.3 170.9 1144.7 168.8C1148.1 166.7 1151.8 165.2 1155.8 164.8C1159.8 164.4 1164.5 165.2 1168.5 166.4C1172.5 167.6 1176.6 169.8 1179.6 172.0C1182.6 174.2 1185.2 177.1 1186.7 179.9C1188.2 182.7 1188.4 186.3 1188.3 188.6C1188.2 190.9 1186.5 191.1 1185.9 193.8C1185.4 196.5 1195.2 203.1 1185.0 205.0C1174.8 206.9 1135.0 209.5 1125.0 205.0C1115.0 200.5 1123.2 182.6 1125.0 178.0C1126.8 173.4 1132.2 179.0 1135.5 177.5Z" fill="#00f" fill-opacity="0.060" filter="url(#b15)" style="mix-blend-mode:screen"/>
<path d="M1135.5 177.5C1138.8 176.0 1141.3 170.9 1144.7 168.8C1148.1 166.7 1151.8 165.2 1155.8 164.8C1159.8 164.4 1164.5 165.2 1168.5 166.4C1172.5 167.6 1176.6 169.8 1179.6 172.0C1182.6 174.2 1185.2 177.1 1186.7 179.9C1188.2 182.7 1188.4 186.3 1188.3 188.6C1188.2 190.9 1186.5 191.1 1185.9 193.8C1185.4 196.5 1195.2 203.1 1185.0 205.0C1174.8 206.9 1135.0 209.5 1125.0 205.0C1115.0 200.5 1123.2 182.6 1125.0 178.0C1126.8 173.4 1132.2 179.0 1135.5 177.5Z" fill="none" stroke="#0f0" stroke-opacity="0.120" stroke-width="3.4" filter="url(#b15)" style="mix-blend-mode:screen"/>
<path d="M1171.6 69.7C1174.8 70.5 1179.4 72.7 1182.7 75.3C1186.0 77.9 1189.4 82.0 1191.4 85.6C1193.4 89.2 1194.5 93.1 1194.6 96.7C1194.7 100.3 1193.9 103.7 1192.2 107.0C1190.5 110.3 1187.2 113.5 1184.3 116.5C1181.4 119.5 1178.2 122.8 1174.8 125.2C1171.4 127.6 1167.4 129.9 1163.7 130.8C1160.0 131.7 1156.0 131.7 1152.6 130.8C1149.2 129.9 1145.6 127.6 1143.1 125.2C1140.6 122.8 1138.6 119.8 1137.5 116.5C1136.4 113.2 1136.0 109.1 1136.4 105.4C1136.8 101.7 1138.1 98.0 1139.9 94.3C1141.7 90.6 1144.6 86.5 1147.1 83.2C1149.6 79.9 1152.2 76.7 1155.0 74.5C1157.8 72.3 1160.9 71.0 1163.7 70.2C1166.5 69.4 1168.4 68.9 1171.6 69.7Z" fill="none" stroke="#f00" stroke-opacity="0.31" stroke-width="1.30" style="mix-blend-mode:screen"/>
<path d="M1252.5 90.3C1255.8 90.4 1260.4 92.0 1263.6 94.3C1266.8 96.5 1269.4 100.1 1271.5 103.8C1273.6 107.5 1275.2 112.3 1276.2 116.5C1277.2 120.7 1278.0 125.0 1277.8 129.2C1277.5 133.4 1276.3 138.1 1274.7 141.9C1273.1 145.7 1271.0 149.4 1268.3 152.2C1265.6 155.0 1262.1 157.7 1258.8 158.5C1255.5 159.3 1251.7 158.3 1248.5 156.9C1245.3 155.5 1242.2 152.8 1239.8 149.8C1237.4 146.8 1235.5 142.7 1234.2 138.7C1232.9 134.7 1232.3 130.2 1232.2 126.0C1232.1 121.8 1232.5 117.4 1233.4 113.3C1234.3 109.2 1235.7 104.7 1237.4 101.4C1239.1 98.1 1241.2 95.3 1243.7 93.5C1246.2 91.7 1249.2 90.2 1252.5 90.3Z" fill="none" stroke="#f00" stroke-opacity="0.31" stroke-width="1.30" style="mix-blend-mode:screen"/>
<path d="M1135.5 177.5C1138.8 176.0 1141.3 170.9 1144.7 168.8C1148.1 166.7 1151.8 165.2 1155.8 164.8C1159.8 164.4 1164.5 165.2 1168.5 166.4C1172.5 167.6 1176.6 169.8 1179.6 172.0C1182.6 174.2 1185.2 177.1 1186.7 179.9C1188.2 182.7 1188.4 186.3 1188.3 188.6C1188.2 190.9 1186.5 191.1 1185.9 193.8C1185.4 196.5 1195.2 203.1 1185.0 205.0C1174.8 206.9 1135.0 209.5 1125.0 205.0C1115.0 200.5 1123.2 182.6 1125.0 178.0C1126.8 173.4 1132.2 179.0 1135.5 177.5Z" fill="none" stroke="#f00" stroke-opacity="0.31" stroke-width="1.30" style="mix-blend-mode:screen"/>
<circle cx="1249" cy="125.7" r="3.4" fill="none" stroke="#f00" stroke-opacity="0.42" stroke-width="1.5" style="mix-blend-mode:screen"/>
<circle cx="1151.5" cy="85" r="1.3" fill="#f00" fill-opacity="0.65" filter="url(#b1)" style="mix-blend-mode:screen"/>
<circle cx="1148" cy="179" r="1.5" fill="#f00" fill-opacity="0.65" filter="url(#b1)" style="mix-blend-mode:screen"/>
<circle cx="1266.5" cy="97" r="1.1" fill="#f00" fill-opacity="0.65" filter="url(#b1)" style="mix-blend-mode:screen"/>
<circle cx="1236" cy="137.5" r="1.2000000000000002" fill="#f00" fill-opacity="0.72" filter="url(#b1)" style="mix-blend-mode:screen"/>
</g>
</g>
<defs>
<filter id="cyanF" filterUnits="userSpaceOnUse" x="40" y="250" width="1250" height="158" color-interpolation-filters="sRGB">
<feGaussianBlur in="SourceGraphic" stdDeviation="0.9" result="b"/>
<feTurbulence type="fractalNoise" baseFrequency="0.3" numOctaves="1" seed="3" result="t"/>
<feColorMatrix in="t" type="matrix" values="1 0 0 0 0 1 0 0 0 0 1 0 0 0 0 0 0 0 0 1" result="n"/>
<feComposite in="b" in2="n" operator="arithmetic" k1="1.6" k2="0.35" k3="0" k4="0" result="m"/>
<feComponentTransfer in="m" result="lut">
<feFuncR type="table" tableValues="0 0 0.05 0.85 1 1"/>
<feFuncG type="table" tableValues="0 0.45 1 1 1 1"/>
<feFuncB type="table" tableValues="0 0.95 1 1 1 1"/>
</feComponentTransfer>
<feComposite in="lut" in2="SourceGraphic" operator="in"/>
</filter>
<clipPath id="cb0"><rect x="44.4" y="254.1" width="146.60" height="148.75"/></clipPath>
<clipPath id="cb1"><rect x="198.8" y="254.1" width="148.20" height="148.75"/></clipPath>
<clipPath id="cb2"><rect x="354.5" y="254.1" width="148.20" height="148.75"/></clipPath>
<clipPath id="cb3"><rect x="510.2" y="254.1" width="148.20" height="148.75"/></clipPath>
<clipPath id="cb4"><rect x="665.8" y="254.1" width="148.00" height="148.75"/></clipPath>
<clipPath id="cb5"><rect x="821.3" y="254.1" width="148.30" height="148.75"/></clipPath>
<clipPath id="cb6"><rect x="977.2" y="254.1" width="148.70" height="148.75"/></clipPath>
<clipPath id="cb7"><rect x="1133.1" y="254.1" width="148.80" height="148.75"/></clipPath>
</defs>
<g filter="url(#cyanF)">
<g clip-path="url(#cb0)" fill="#fff">
<rect x="44.4" y="254.1" width="146.60" height="148.75" fill="#000"/>
<circle cx="59.4" cy="265.3" r="2.3"/>
<circle cx="78.4" cy="261.5" r="2.8"/>
<circle cx="133.0" cy="261.2" r="2.8"/>
<circle cx="144.0" cy="255.4" r="2.3"/>
<circle cx="154.7" cy="258.2" r="2.8"/>
<circle cx="181.2" cy="257.1" r="2.3"/>
<circle cx="47.9" cy="275.5" r="2.3"/>
<circle cx="94.7" cy="279.6" r="2.3"/>
<circle cx="141.7" cy="274.4" r="1.6" fill-opacity="0.55"/>
<circle cx="187.3" cy="273.9" r="2.8"/>
<circle cx="169.2" cy="281.8" r="2.8"/>
<circle cx="180.2" cy="285.9" r="2.8"/>
<circle cx="70.1" cy="293.6" r="2.8"/>
<circle cx="84.9" cy="301.5" r="2.3"/>
<circle cx="116.2" cy="299.7" r="3.4"/>
<circle cx="133.0" cy="297.4" r="2.8"/>
<circle cx="170.4" cy="299.1" r="3.4"/>
<circle cx="92.0" cy="309.6" r="2.3"/>
<circle cx="122.8" cy="310.6" r="2.3"/>
<circle cx="161.5" cy="309.3" r="2.8"/>
<circle cx="54.5" cy="312.9" r="2.3"/>
<circle cx="71.3" cy="322.4" r="2.8"/>
<circle cx="92.7" cy="324.1" r="3.4"/>
<circle cx="141.6" cy="324.1" r="2.8"/>
<circle cx="50.2" cy="327.0" r="2.8"/>
<circle cx="115.7" cy="330.7" r="2.3"/>
<circle cx="168.1" cy="329.8" r="2.8"/>
<circle cx="189.3" cy="329.8" r="2.3"/>
<circle cx="75.4" cy="336.1" r="1.6" fill-opacity="0.55"/>
<circle cx="124.8" cy="340.9" r="2.3"/>
<circle cx="113.6" cy="348.4" r="3.4"/>
<circle cx="51.9" cy="350.7" r="2.3"/>
<circle cx="69.3" cy="352.1" r="2.8"/>
<circle cx="99.6" cy="353.7" r="2.3"/>
<circle cx="158.2" cy="350.7" r="2.8"/>
<circle cx="185.7" cy="354.5" r="2.8"/>
<circle cx="75.4" cy="360.3" r="2.8"/>
<circle cx="56.1" cy="363.3" r="2.3"/>
<circle cx="128.6" cy="364.9" r="2.3"/>
<circle cx="148.1" cy="362.8" r="2.8"/>
<circle cx="103.0" cy="381.2" r="2.8"/>
<circle cx="125.9" cy="382.0" r="2.8"/>
<circle cx="160.2" cy="387.4" r="2.8"/>
<circle cx="179.1" cy="389.6" r="2.8"/>
<circle cx="49.4" cy="394.9" r="2.8"/>
<circle cx="75.4" cy="392.4" r="2.8"/>
<circle cx="97.3" cy="395.7" r="2.3"/>
<circle cx="113.3" cy="401.4" r="2.3"/>
<circle cx="44.6" cy="368.2" r="1.6" fill-opacity="0.55"/>
<circle cx="190.1" cy="368.2" r="1.6" fill-opacity="0.55"/>
<circle cx="189.0" cy="344.7" r="1.6" fill-opacity="0.55"/>
<circle cx="170.0" cy="312.6" r="1.6" fill-opacity="0.55"/>
<circle cx="135.5" cy="379.2" r="1.6" fill-opacity="0.55"/>
</g>
<g clip-path="url(#cb1)" fill="#fff">
<rect x="198.8" y="254.1" width="148.20" height="148.75" fill="#000"/>
<circle cx="216.9" cy="257.4" r="2.8"/>
<circle cx="264.1" cy="262.8" r="2.3"/>
<circle cx="299.9" cy="263.2" r="2.8"/>
<circle cx="318.5" cy="254.1" r="1.6" fill-opacity="0.55"/>
<circle cx="346.4" cy="266.5" r="1.6" fill-opacity="0.55"/>
<circle cx="218.9" cy="272.7" r="2.3"/>
<circle cx="325.0" cy="273.5" r="3.4"/>
<circle cx="250.6" cy="278.8" r="2.3"/>
<circle cx="299.2" cy="281.6" r="2.8"/>
<circle cx="278.5" cy="287.0" r="2.8"/>
<circle cx="235.3" cy="283.4" r="1.6" fill-opacity="0.55"/>
<circle cx="327.5" cy="297.4" r="2.8"/>
<circle cx="342.7" cy="294.9" r="2.3"/>
<circle cx="269.1" cy="296.9" r="2.3"/>
<circle cx="236.2" cy="307.9" r="2.3"/>
<circle cx="298.4" cy="310.9" r="2.8"/>
<circle cx="325.4" cy="314.5" r="2.3"/>
<circle cx="248.0" cy="315.5" r="2.8"/>
<circle cx="214.4" cy="317.5" r="2.8"/>
<circle cx="298.4" cy="326.5" r="2.8"/>
<circle cx="263.3" cy="329.5" r="3.4"/>
<circle cx="231.5" cy="334.0" r="2.8"/>
<circle cx="311.9" cy="334.8" r="2.8"/>
<circle cx="203.7" cy="336.4" r="2.8"/>
<circle cx="341.2" cy="339.7" r="2.3"/>
<circle cx="244.9" cy="345.0" r="2.8"/>
<circle cx="270.7" cy="354.2" r="2.8"/>
<circle cx="313.8" cy="353.7" r="2.3"/>
<circle cx="222.2" cy="356.5" r="2.3"/>
<circle cx="240.3" cy="356.2" r="2.3"/>
<circle cx="334.1" cy="359.1" r="2.8"/>
<circle cx="287.2" cy="371.3" r="2.8"/>
<circle cx="235.8" cy="372.3" r="2.8"/>
<circle cx="246.9" cy="372.3" r="2.3"/>
<circle cx="209.0" cy="373.5" r="2.3"/>
<circle cx="260.3" cy="388.3" r="2.8"/>
<circle cx="298.4" cy="388.3" r="3.4"/>
<circle cx="322.2" cy="389.9" r="3.4"/>
</g>
<g clip-path="url(#cb2)" fill="#fff">
<rect x="354.5" y="254.1" width="148.20" height="148.75" fill="#000"/>
<circle cx="368.3" cy="259.1" r="3.4"/>
<circle cx="394.6" cy="258.2" r="2.8"/>
<circle cx="425.4" cy="259.1" r="1.6" fill-opacity="0.55"/>
<circle cx="441.5" cy="261.5" r="2.8"/>
<circle cx="459.3" cy="257.4" r="1.6" fill-opacity="0.55"/>
<circle cx="480.5" cy="264.0" r="2.3"/>
<circle cx="492.6" cy="254.1" r="1.6" fill-opacity="0.55"/>
<circle cx="384.3" cy="276.0" r="3.4"/>
<circle cx="409.4" cy="274.4" r="2.8"/>
<circle cx="436.6" cy="272.2" r="2.3"/>
<circle cx="459.6" cy="275.5" r="2.3"/>
<circle cx="470.7" cy="276.0" r="2.8"/>
<circle cx="372.4" cy="286.5" r="2.3"/>
<circle cx="416.3" cy="290.8" r="2.8"/>
<circle cx="433.6" cy="290.8" r="3.4"/>
<circle cx="367.0" cy="300.2" r="2.8"/>
<circle cx="384.7" cy="299.4" r="2.8"/>
<circle cx="414.4" cy="306.5" r="2.8"/>
<circle cx="443.2" cy="306.0" r="2.3"/>
<circle cx="474.1" cy="302.7" r="2.8"/>
<circle cx="494.7" cy="311.2" r="3.4"/>
<circle cx="416.8" cy="316.3" r="2.8"/>
<circle cx="374.5" cy="319.1" r="2.3"/>
<circle cx="400.1" cy="324.9" r="2.8"/>
<circle cx="483.8" cy="324.1" r="2.8"/>
<circle cx="436.6" cy="329.0" r="3.4"/>
<circle cx="496.7" cy="336.7" r="2.8"/>
<circle cx="384.7" cy="341.4" r="2.3"/>
<circle cx="402.5" cy="341.9" r="2.8"/>
<circle cx="447.3" cy="345.8" r="2.8"/>
<circle cx="377.3" cy="352.1" r="2.3"/>
<circle cx="414.7" cy="352.1" r="2.3"/>
<circle cx="432.8" cy="354.2" r="2.8"/>
<circle cx="479.9" cy="354.2" r="3.4"/>
<circle cx="492.2" cy="357.5" r="2.8"/>
<circle cx="359.6" cy="362.3" r="2.8"/>
<circle cx="421.8" cy="372.6" r="3.4"/>
<circle cx="439.9" cy="371.5" r="2.8"/>
<circle cx="449.8" cy="375.1" r="2.8"/>
<circle cx="382.6" cy="375.9" r="2.3"/>
<circle cx="356.8" cy="380.0" r="2.8"/>
<circle cx="387.5" cy="390.7" r="3.4"/>
<circle cx="455.2" cy="394.0" r="2.8"/>
<circle cx="500.8" cy="388.3" r="2.3"/>
</g>
<g clip-path="url(#cb3)" fill="#fff">
<rect x="510.2" y="254.1" width="148.20" height="148.75" fill="#000"/>
<circle cx="526.8" cy="259.5" r="2.8"/>
<circle cx="557.5" cy="259.9" r="3.4"/>
<circle cx="595.9" cy="257.9" r="2.8"/>
<circle cx="620.9" cy="263.2" r="2.8"/>
<circle cx="644.0" cy="261.2" r="2.8"/>
<circle cx="656.0" cy="254.9" r="2.3"/>
<circle cx="539.9" cy="263.2" r="1.6" fill-opacity="0.55"/>
<circle cx="572.8" cy="263.5" r="1.6" fill-opacity="0.55"/>
<circle cx="648.9" cy="270.6" r="1.6" fill-opacity="0.55"/>
<circle cx="584.9" cy="276.3" r="3.4"/>
<circle cx="626.3" cy="276.3" r="2.3"/>
<circle cx="527.9" cy="287.0" r="2.8"/>
<circle cx="550.6" cy="287.5" r="3.4"/>
<circle cx="645.8" cy="289.2" r="2.8"/>
<circle cx="573.2" cy="295.6" r="2.8"/>
<circle cx="613.5" cy="293.1" r="3.4"/>
<circle cx="511.4" cy="301.0" r="1.6" fill-opacity="0.55"/>
<circle cx="588.0" cy="303.8" r="2.3"/>
<circle cx="625.5" cy="307.6" r="2.8"/>
<circle cx="525.4" cy="313.0" r="2.8"/>
<circle cx="603.8" cy="315.3" r="2.8"/>
<circle cx="641.7" cy="313.4" r="1.6" fill-opacity="0.55"/>
<circle cx="635.1" cy="322.1" r="3.4"/>
<circle cx="539.4" cy="324.1" r="2.3"/>
<circle cx="576.1" cy="326.2" r="2.8"/>
<circle cx="534.2" cy="336.7" r="3.4"/>
<circle cx="598.9" cy="335.9" r="1.6" fill-opacity="0.55"/>
<circle cx="519.8" cy="345.0" r="3.4"/>
<circle cx="552.8" cy="344.7" r="2.8"/>
<circle cx="623.5" cy="348.3" r="2.8"/>
<circle cx="569.6" cy="352.1" r="2.8"/>
<circle cx="658.1" cy="350.4" r="2.3"/>
<circle cx="643.3" cy="361.1" r="3.4"/>
<circle cx="536.3" cy="363.6" r="2.8"/>
<circle cx="586.5" cy="365.7" r="3.4"/>
<circle cx="607.7" cy="375.9" r="2.8"/>
<circle cx="521.0" cy="378.4" r="1.6" fill-opacity="0.55"/>
<circle cx="552.8" cy="379.5" r="3.4"/>
<circle cx="641.2" cy="383.3" r="2.8"/>
<circle cx="514.4" cy="392.4" r="2.8"/>
<circle cx="572.8" cy="392.7" r="3.4"/>
<circle cx="620.6" cy="392.4" r="1.6" fill-opacity="0.55"/>
<circle cx="648.6" cy="399.0" r="2.8"/>
<circle cx="530.0" cy="402.3" r="1.6" fill-opacity="0.55"/>
<circle cx="544.9" cy="402.3" r="1.6" fill-opacity="0.55"/>
<circle cx="643.3" cy="370.2" r="1.6" fill-opacity="0.55"/>
<circle cx="545.2" cy="393.2" r="1.6" fill-opacity="0.55"/>
</g>
<g clip-path="url(#cb4)" fill="#fff">
<rect x="665.8" y="254.1" width="148.00" height="148.75" fill="#000"/>
<circle cx="679.0" cy="264.8" r="2.8"/>
<circle cx="703.8" cy="261.2" r="3.4"/>
<circle cx="722.6" cy="261.0" r="2.8"/>
<circle cx="760.4" cy="260.2" r="2.8"/>
<circle cx="779.5" cy="264.5" r="2.8"/>
<circle cx="777.4" cy="254.6" r="1.6" fill-opacity="0.55"/>
<circle cx="812.0" cy="267.0" r="2.3"/>
<circle cx="689.3" cy="271.4" r="2.3"/>
<circle cx="738.4" cy="271.9" r="2.8"/>
<circle cx="717.3" cy="276.7" r="2.8"/>
<circle cx="698.4" cy="282.6" r="2.3"/>
<circle cx="668.8" cy="284.1" r="1.6" fill-opacity="0.55"/>
<circle cx="748.3" cy="284.2" r="1.6" fill-opacity="0.55"/>
<circle cx="761.8" cy="286.2" r="2.8"/>
<circle cx="795.0" cy="282.6" r="3.4"/>
<circle cx="812.8" cy="284.6" r="2.3"/>
<circle cx="778.7" cy="291.6" r="2.3"/>
<circle cx="690.5" cy="299.9" r="2.3"/>
<circle cx="715.7" cy="299.4" r="3.4"/>
<circle cx="730.5" cy="298.1" r="2.3"/>
<circle cx="739.9" cy="296.9" r="2.8"/>
<circle cx="672.1" cy="311.7" r="2.8"/>
<circle cx="704.6" cy="315.0" r="2.3"/>
<circle cx="744.8" cy="311.4" r="2.3"/>
<circle cx="728.5" cy="319.5" r="2.8"/>
<circle cx="789.3" cy="310.1" r="2.3"/>
<circle cx="761.8" cy="315.0" r="1.6" fill-opacity="0.55"/>
<circle cx="773.0" cy="320.0" r="3.4"/>
<circle cx="805.4" cy="319.5" r="2.8"/>
<circle cx="680.8" cy="328.7" r="2.3"/>
<circle cx="670.9" cy="341.0" r="2.8"/>
<circle cx="702.5" cy="340.2" r="2.8"/>
<circle cx="717.0" cy="343.8" r="2.3"/>
<circle cx="741.7" cy="342.7" r="2.8"/>
<circle cx="734.1" cy="348.8" r="2.3"/>
<circle cx="769.2" cy="339.7" r="1.6" fill-opacity="0.55"/>
<circle cx="783.2" cy="344.2" r="1.6" fill-opacity="0.55"/>
<circle cx="806.2" cy="346.8" r="3.4"/>
<circle cx="684.7" cy="350.9" r="2.8"/>
<circle cx="699.5" cy="362.8" r="3.4"/>
<circle cx="714.9" cy="364.7" r="2.3"/>
<circle cx="732.6" cy="368.0" r="2.8"/>
<circle cx="760.1" cy="361.9" r="2.3"/>
<circle cx="780.2" cy="363.6" r="2.3"/>
<circle cx="808.7" cy="364.7" r="2.8"/>
<circle cx="691.0" cy="374.6" r="2.8"/>
<circle cx="686.0" cy="387.0" r="2.3"/>
<circle cx="724.2" cy="387.1" r="2.8"/>
<circle cx="752.4" cy="383.8" r="3.4"/>
<circle cx="771.1" cy="385.0" r="2.3"/>
<circle cx="786.8" cy="388.3" r="2.3"/>
<circle cx="804.9" cy="391.1" r="3.4"/>
<circle cx="762.3" cy="395.3" r="1.6" fill-opacity="0.55"/>
<circle cx="758.5" cy="400.6" r="1.6" fill-opacity="0.55"/>
<circle cx="706.6" cy="401.8" r="1.6" fill-opacity="0.55"/>
<circle cx="799.6" cy="401.8" r="1.6" fill-opacity="0.55"/>
<circle cx="813.1" cy="310.1" r="1.6" fill-opacity="0.55"/>
</g>
<g clip-path="url(#cb5)" fill="#fff">
<rect x="821.3" y="254.1" width="148.30" height="148.75" fill="#000"/>
<circle cx="847.6" cy="261.9" r="2.8"/>
<circle cx="882.2" cy="257.4" r="2.8"/>
<circle cx="911.5" cy="255.8" r="2.3"/>
<circle cx="946.4" cy="254.1" r="2.3"/>
<circle cx="828.2" cy="271.1" r="3.4"/>
<circle cx="903.9" cy="274.4" r="3.4"/>
<circle cx="923.8" cy="271.1" r="2.8"/>
<circle cx="945.1" cy="268.4" r="2.8"/>
<circle cx="969.1" cy="267.3" r="2.3"/>
<circle cx="870.3" cy="281.3" r="2.8"/>
<circle cx="896.7" cy="284.6" r="2.8"/>
<circle cx="855.9" cy="287.5" r="2.3"/>
<circle cx="964.2" cy="286.2" r="2.8"/>
<circle cx="953.8" cy="293.6" r="2.8"/>
<circle cx="846.8" cy="298.2" r="2.8"/>
<circle cx="872.8" cy="303.2" r="2.8"/>
<circle cx="939.8" cy="305.1" r="3.4"/>
<circle cx="962.9" cy="308.4" r="2.8"/>
<circle cx="834.5" cy="310.6" r="2.3"/>
<circle cx="889.1" cy="312.2" r="2.8"/>
<circle cx="878.1" cy="318.0" r="2.8"/>
<circle cx="898.7" cy="319.5" r="2.8"/>
<circle cx="918.7" cy="316.7" r="2.8"/>
<circle cx="859.2" cy="320.5" r="3.4"/>
<circle cx="936.5" cy="328.5" r="2.8"/>
<circle cx="823.8" cy="331.5" r="3.4"/>
<circle cx="873.1" cy="331.5" r="2.8"/>
<circle cx="922.5" cy="334.0" r="3.4"/>
<circle cx="964.8" cy="332.3" r="3.4"/>
<circle cx="832.8" cy="336.7" r="2.8"/>
<circle cx="900.6" cy="338.1" r="3.4"/>
<circle cx="889.9" cy="334.8" r="1.6" fill-opacity="0.55"/>
<circle cx="846.3" cy="349.9" r="2.3"/>
<circle cx="884.3" cy="347.9" r="2.3"/>
<circle cx="863.3" cy="352.1" r="2.8"/>
<circle cx="915.9" cy="352.1" r="2.8"/>
<circle cx="822.9" cy="355.3" r="2.8"/>
<circle cx="937.7" cy="357.8" r="3.4"/>
<circle cx="891.6" cy="363.1" r="2.8"/>
<circle cx="960.1" cy="362.4" r="3.4"/>
<circle cx="833.1" cy="367.7" r="2.8"/>
<circle cx="928.0" cy="372.6" r="2.8"/>
<circle cx="917.3" cy="375.9" r="2.3"/>
<circle cx="853.4" cy="381.7" r="3.4"/>
<circle cx="871.5" cy="385.0" r="2.8"/>
<circle cx="906.1" cy="383.3" r="2.3"/>
<circle cx="946.4" cy="386.6" r="2.8"/>
<circle cx="893.4" cy="388.3" r="2.8"/>
<circle cx="906.9" cy="393.2" r="2.8"/>
<circle cx="932.7" cy="392.4" r="3.4"/>
<circle cx="843.5" cy="398.6" r="2.8"/>
<circle cx="884.3" cy="397.7" r="2.8"/>
<circle cx="899.8" cy="402.3" r="1.6" fill-opacity="0.55"/>
<circle cx="822.1" cy="384.2" r="1.6" fill-opacity="0.55"/>
<circle cx="957.1" cy="311.7" r="1.6" fill-opacity="0.55"/>
</g>
<g clip-path="url(#cb6)" fill="#fff">
<rect x="977.2" y="254.1" width="148.70" height="148.75" fill="#000"/>
<circle cx="1009.1" cy="258.2" r="2.8"/>
<circle cx="1087.6" cy="259.4" r="2.8"/>
<circle cx="1055.0" cy="256.3" r="1.6" fill-opacity="0.55"/>
<circle cx="1069.1" cy="268.6" r="3.4"/>
<circle cx="1107.0" cy="270.6" r="2.8"/>
<circle cx="992.9" cy="273.5" r="2.8"/>
<circle cx="1016.5" cy="274.7" r="2.8"/>
<circle cx="1003.3" cy="266.5" r="1.6" fill-opacity="0.55"/>
<circle cx="1057.6" cy="280.8" r="2.8"/>
<circle cx="1068.3" cy="281.3" r="2.8"/>
<circle cx="1094.2" cy="284.1" r="3.4"/>
<circle cx="993.8" cy="287.4" r="2.8"/>
<circle cx="980.6" cy="287.5" r="1.6" fill-opacity="0.55"/>
<circle cx="1106.5" cy="289.2" r="2.3"/>
<circle cx="1028.3" cy="297.4" r="2.8"/>
<circle cx="1059.3" cy="299.4" r="2.3"/>
<circle cx="1084.8" cy="304.0" r="2.8"/>
<circle cx="1119.7" cy="303.2" r="2.8"/>
<circle cx="1003.3" cy="303.8" r="2.8"/>
<circle cx="983.4" cy="309.8" r="2.8"/>
<circle cx="993.4" cy="317.8" r="2.3"/>
<circle cx="1007.7" cy="318.0" r="2.8"/>
<circle cx="1105.2" cy="318.0" r="2.8"/>
<circle cx="1074.4" cy="327.4" r="3.4"/>
<circle cx="1086.4" cy="327.0" r="2.8"/>
<circle cx="1029.5" cy="332.3" r="2.8"/>
<circle cx="1043.1" cy="334.0" r="2.8"/>
<circle cx="1061.2" cy="338.4" r="2.8"/>
<circle cx="1109.8" cy="337.2" r="2.8"/>
<circle cx="1010.5" cy="345.5" r="2.8"/>
<circle cx="1026.7" cy="349.9" r="2.8"/>
<circle cx="1093.7" cy="347.9" r="3.4"/>
<circle cx="1010.2" cy="354.0" r="1.6" fill-opacity="0.55"/>
<circle cx="1083.0" cy="357.8" r="3.4"/>
<circle cx="1102.4" cy="356.7" r="1.6" fill-opacity="0.55"/>
<circle cx="1113.9" cy="360.6" r="2.8"/>
<circle cx="1047.6" cy="361.9" r="3.4"/>
<circle cx="981.4" cy="361.1" r="1.6" fill-opacity="0.55"/>
<circle cx="978.9" cy="349.6" r="1.6" fill-opacity="0.55"/>
<circle cx="1009.1" cy="370.2" r="2.8"/>
<circle cx="995.4" cy="373.5" r="2.3"/>
<circle cx="1023.1" cy="376.7" r="3.4"/>
<circle cx="1036.1" cy="377.6" r="2.8"/>
<circle cx="1073.1" cy="379.7" r="3.4"/>
<circle cx="1044.5" cy="385.3" r="2.8"/>
<circle cx="983.1" cy="389.9" r="3.4"/>
<circle cx="1013.2" cy="390.7" r="2.8"/>
<circle cx="1002.3" cy="386.6" r="1.6" fill-opacity="0.55"/>
<circle cx="1002.8" cy="398.6" r="2.8"/>
<circle cx="1051.7" cy="398.1" r="3.4"/>
<circle cx="1070.3" cy="396.5" r="2.8"/>
<circle cx="1120.8" cy="396.2" r="2.8"/>
<circle cx="1081.8" cy="396.5" r="1.6" fill-opacity="0.55"/>
</g>
<g clip-path="url(#cb7)" fill="#fff">
<rect x="1133.1" y="254.1" width="148.80" height="148.75" fill="#000"/>
<circle cx="1157.2" cy="256.9" r="2.8"/>
<circle cx="1175.3" cy="259.9" r="3.4"/>
<circle cx="1227.1" cy="260.2" r="3.4"/>
<circle cx="1251.3" cy="264.3" r="3.4"/>
<circle cx="1140.4" cy="267.0" r="3.4"/>
<circle cx="1164.9" cy="267.3" r="3.4"/>
<circle cx="1189.8" cy="269.8" r="2.8"/>
<circle cx="1265.0" cy="273.4" r="3.4"/>
<circle cx="1205.7" cy="273.5" r="1.6" fill-opacity="0.55"/>
<circle cx="1150.9" cy="281.3" r="2.8"/>
<circle cx="1249.3" cy="279.3" r="2.8"/>
<circle cx="1237.0" cy="284.1" r="3.4"/>
<circle cx="1265.0" cy="289.2" r="3.4"/>
<circle cx="1193.9" cy="290.0" r="3.4"/>
<circle cx="1175.3" cy="294.1" r="3.4"/>
<circle cx="1153.9" cy="295.6" r="3.4"/>
<circle cx="1234.2" cy="301.5" r="2.8"/>
<circle cx="1141.9" cy="307.1" r="2.8"/>
<circle cx="1269.9" cy="312.1" r="2.8"/>
<circle cx="1201.1" cy="315.3" r="2.8"/>
<circle cx="1159.1" cy="321.9" r="2.8"/>
<circle cx="1220.5" cy="323.3" r="3.4"/>
<circle cx="1268.8" cy="324.9" r="3.4"/>
<circle cx="1234.0" cy="329.8" r="2.8"/>
<circle cx="1254.0" cy="331.8" r="2.8"/>
<circle cx="1166.5" cy="334.3" r="3.4"/>
<circle cx="1185.6" cy="336.1" r="3.4"/>
<circle cx="1134.1" cy="336.7" r="2.8"/>
<circle cx="1276.5" cy="341.0" r="3.4"/>
<circle cx="1192.6" cy="345.5" r="3.4"/>
<circle cx="1159.3" cy="347.4" r="3.4"/>
<circle cx="1151.4" cy="345.5" r="1.6" fill-opacity="0.55"/>
<circle cx="1247.2" cy="352.1" r="3.4"/>
<circle cx="1218.1" cy="354.5" r="3.4"/>
<circle cx="1187.3" cy="356.2" r="1.6" fill-opacity="0.55"/>
<circle cx="1267.1" cy="357.8" r="3.4"/>
<circle cx="1227.4" cy="361.6" r="1.6" fill-opacity="0.55"/>
<circle cx="1145.6" cy="373.5" r="4.4"/>
<circle cx="1274.5" cy="373.1" r="3.4"/>
<circle cx="1241.4" cy="376.7" r="3.4"/>
<circle cx="1222.2" cy="378.9" r="3.4"/>
<circle cx="1208.7" cy="380.5" r="3.4"/>
<circle cx="1138.6" cy="387.0" r="3.4"/>
<circle cx="1251.8" cy="391.1" r="3.4"/>
<circle cx="1202.4" cy="393.7" r="1.6" fill-opacity="0.55"/>
<circle cx="1137.9" cy="400.6" r="2.8"/>
<circle cx="1157.7" cy="402.3" r="1.6" fill-opacity="0.55"/>
<circle cx="1274.5" cy="401.4" r="1.6" fill-opacity="0.55"/>
</g>
</g>
<rect x="1250.3" y="198.9" width="29.6" height="4.1" fill="#000"/>
<rect x="1209.4" y="410.0" width="74.1" height="4.75" fill="#000"/>
<rect x="1309.3" y="53.4" width="11.3" height="127.15" fill="url(#fire)" stroke="#222" stroke-width="1"/>
<text x="1326.4" y="63.0" font-size="24.6" text-anchor="start" >1.0 <tspan font-family="'Liberation Serif', 'DejaVu Serif', serif">μ</tspan><tspan dx="1.6">M</tspan></text>
<text x="1328.4" y="127.0" font-size="24.6" text-anchor="start" >0.5 <tspan font-family="'Liberation Serif', 'DejaVu Serif', serif">μ</tspan><tspan dx="1.6">M</tspan></text>
<text x="1329.6" y="190.2" font-size="24.6" text-anchor="start" >0 <tspan font-family="'Liberation Serif', 'DejaVu Serif', serif">μ</tspan><tspan dx="1.6">M</tspan></text>
<g id="chartC" stroke="#000" fill="none">
<path d="M139.5 462.2V883.9" stroke-width="2.5"/><path d="M130.1 881H662.2" stroke-width="2.3"/>
<g stroke-width="2.1">
<path d="M130.1 881.0H139.5"/>
<path d="M130.1 829.0H139.5"/>
<path d="M130.1 777.0H139.5"/>
<path d="M130.1 725.0H139.5"/>
<path d="M130.1 673.0H139.5"/>
<path d="M130.1 621.0H139.5"/>
<path d="M130.1 569.0H139.5"/>
<path d="M130.1 517.0H139.5"/>
<path d="M130.1 465.0H139.5"/>
<path d="M180.6 881V889.9"/>
<path d="M242.7 881V889.9"/>
<path d="M304.8 881V889.9"/>
<path d="M366.8 881V889.9"/>
<path d="M428.9 881V889.9"/>
<path d="M491.0 881V889.9"/>
<path d="M553.1 881V889.9"/>
<path d="M615.2 881V889.9"/>
</g></g>
<text x="122.4" y="890.0" font-size="24.6" text-anchor="end" >0</text>
<text x="122.4" y="838.0" font-size="24.6" text-anchor="end" >2</text>
<text x="122.4" y="786.0" font-size="24.6" text-anchor="end" >4</text>
<text x="122.4" y="734.0" font-size="24.6" text-anchor="end" >6</text>
<text x="122.4" y="682.0" font-size="24.6" text-anchor="end" >8</text>
<text x="122.4" y="630.0" font-size="24.6" text-anchor="end" >10</text>
<text x="122.4" y="578.0" font-size="24.6" text-anchor="end" >12</text>
<text x="122.4" y="526.0" font-size="24.6" text-anchor="end" >14</text>
<text x="122.4" y="474.0" font-size="24.6" text-anchor="end" >16</text>
<text x="73" y="673.2" font-size="24.6" text-anchor="middle" transform="rotate(-90 73 673.2)" letter-spacing="0.33">Nuclear pore density (<tspan font-family="'Liberation Serif', 'DejaVu Serif', serif">μ</tspan>m<tspan font-size="15.5" dy="-8.5">−2</tspan><tspan dy="8.5">)</tspan></text>
<text x="186" y="909.6" font-size="24.6" text-anchor="end" transform="rotate(-45 186 909.6)" letter-spacing="0.5">Nup107</text>
<text x="240.7" y="907.6" font-size="24.6" text-anchor="end" transform="rotate(-45 240.7 907.6)" letter-spacing="0">Seh1</text>
<text x="306" y="909.4" font-size="24.6" text-anchor="end" transform="rotate(-45 306 909.4)" letter-spacing="0.5">Nup205</text>
<text x="368.1" y="907.9" font-size="24.6" text-anchor="end" transform="rotate(-45 368.1 907.9)" letter-spacing="0.5">Nup93</text>
<text x="429" y="907.9" font-size="24.6" text-anchor="end" transform="rotate(-45 429 907.9)" letter-spacing="0.5">Nup62</text>
<text x="492.1" y="908.2" font-size="24.6" text-anchor="end" transform="rotate(-45 492.1 908.2)" letter-spacing="0.5">Nup214</text>
<text x="553.6" y="908.5" font-size="24.6" text-anchor="end" transform="rotate(-45 553.6 908.5)" letter-spacing="0">Tpr</text>
<text x="616.1" y="908.2" font-size="24.6" text-anchor="end" transform="rotate(-45 616.1 908.2)" letter-spacing="0.5">Nup358</text>
<g fill="none" stroke="#087f9b" stroke-width="5.4">
<circle cx="180.7" cy="527.8" r="5.3"/>
<circle cx="180.7" cy="593.2" r="5.3"/>
<circle cx="196.3" cy="614.3" r="5.3"/>
<circle cx="165.3" cy="624.5" r="5.3"/>
<circle cx="165.3" cy="637.1" r="5.3"/>
<circle cx="196.3" cy="635.1" r="5.3"/>
<circle cx="243.0" cy="615.4" r="5.3"/>
<circle cx="227.8" cy="635.8" r="5.3"/>
<circle cx="258.4" cy="636.5" r="5.3"/>
<circle cx="243.0" cy="644.4" r="5.3"/>
<circle cx="250.4" cy="656.1" r="5.3"/>
<circle cx="235.0" cy="663.4" r="5.3"/>
<circle cx="289.4" cy="609.3" r="5.3"/>
<circle cx="299.5" cy="615.4" r="5.3"/>
<circle cx="309.7" cy="613.8" r="5.3"/>
<circle cx="320.4" cy="615.0" r="5.3"/>
<circle cx="309.7" cy="625.1" r="5.3"/>
<circle cx="304.5" cy="643.9" r="5.3"/>
<circle cx="351.6" cy="650.9" r="5.3"/>
<circle cx="367.0" cy="645.5" r="5.3"/>
<circle cx="382.6" cy="655.2" r="5.3"/>
<circle cx="367.0" cy="678.1" r="5.3"/>
<circle cx="367.0" cy="689.2" r="5.3"/>
<circle cx="414.0" cy="590.1" r="5.3"/>
<circle cx="444.8" cy="581.5" r="5.3"/>
<circle cx="429.4" cy="601.9" r="5.3"/>
<circle cx="414.0" cy="616.6" r="5.3"/>
<circle cx="444.8" cy="620.0" r="5.3"/>
<circle cx="429.4" cy="631.7" r="5.3"/>
<circle cx="491.4" cy="530.6" r="5.3"/>
<circle cx="476.0" cy="578.1" r="5.3"/>
<circle cx="506.8" cy="581.0" r="5.3"/>
<circle cx="491.4" cy="593.5" r="5.3"/>
<circle cx="491.4" cy="615.9" r="5.3"/>
<circle cx="491.4" cy="626.8" r="5.3"/>
<circle cx="538.3" cy="586.0" r="5.3"/>
<circle cx="569.0" cy="579.2" r="5.3"/>
<circle cx="538.3" cy="602.3" r="5.3"/>
<circle cx="569.0" cy="601.0" r="5.3"/>
<circle cx="553.4" cy="620.4" r="5.3"/>
<circle cx="553.4" cy="635.4" r="5.3"/>
<circle cx="600.3" cy="600.0" r="5.3"/>
<circle cx="631.0" cy="598.9" r="5.3"/>
<circle cx="615.7" cy="638.1" r="5.3"/>
<circle cx="615.7" cy="650.5" r="5.3"/>
</g><g stroke="#000" stroke-width="5.2">
<path d="M160.4 619.1H201.8"/>
<path d="M222.1 640.8H264.0"/>
<path d="M284.4 615.6H326.0"/>
<path d="M346.6 655.5H388.2"/>
<path d="M408.8 609.3H450.2"/>
<path d="M471.0 587.1H512.2"/>
<path d="M533.0 601.4H574.5"/>
<path d="M595.0 619.1H636.7"/>
</g>
<g id="chartD" stroke="#000" fill="none">
<path d="M788.5 460V881.6" stroke-width="2.5"/><path d="M779 878.9H1352.6" stroke-width="2.3"/>
<g stroke-width="2.1">
<path d="M779 878.9H788.5"/>
<path d="M779 795.7H788.5"/>
<path d="M779 712.5H788.5"/>
<path d="M779 629.3H788.5"/>
<path d="M779 546.1H788.5"/>
<path d="M779 462.9H788.5"/>
<path d="M832.9 878.9V887.9"/>
<path d="M900.3 878.9V887.9"/>
<path d="M967.8 878.9V887.9"/>
<path d="M1035.2 878.9V887.9"/>
<path d="M1102.6 878.9V887.9"/>
<path d="M1170.0 878.9V887.9"/>
<path d="M1237.5 878.9V887.9"/>
<path d="M1304.9 878.9V887.9"/>
</g></g>
<text x="771.0" y="887.9" font-size="24.6" text-anchor="end" >0</text>
<text x="771.0" y="804.6999999999999" font-size="24.6" text-anchor="end" >16</text>
<text x="771.0" y="721.5" font-size="24.6" text-anchor="end" >32</text>
<text x="771.0" y="638.3" font-size="24.6" text-anchor="end" >48</text>
<text x="771.0" y="555.0999999999999" font-size="24.6" text-anchor="end" >64</text>
<text x="771.0" y="471.9" font-size="24.6" text-anchor="end" >80</text>
<text x="723.5" y="672.5" font-size="24.6" text-anchor="middle" textLength="252" lengthAdjust="spacing" transform="rotate(-90 723.5 672.5)" >Copy number per pore</text>
<text x="839.6" y="910.2" font-size="24.6" text-anchor="end" transform="rotate(-45 839.6 910.2)" letter-spacing="0.5">Nup107</text>
<text x="901.3" y="907.9" font-size="24.6" text-anchor="end" transform="rotate(-45 901.3 907.9)" letter-spacing="0">Seh1</text>
<text x="970.6" y="909.7" font-size="24.6" text-anchor="end" transform="rotate(-45 970.6 909.7)" letter-spacing="0.5">Nup205</text>
<text x="1038.5" y="908.1" font-size="24.6" text-anchor="end" transform="rotate(-45 1038.5 908.1)" letter-spacing="0.5">Nup93</text>
<text x="1105.6" y="908.1" font-size="24.6" text-anchor="end" transform="rotate(-45 1105.6 908.1)" letter-spacing="0.5">Nup62</text>
<text x="1176.4" y="908.1" font-size="24.6" text-anchor="end" transform="rotate(-45 1176.4 908.1)" letter-spacing="0.5">Nup214</text>
<text x="1239.8" y="908.1" font-size="24.6" text-anchor="end" transform="rotate(-45 1239.8 908.1)" letter-spacing="0">Tpr</text>
<text x="1313.2" y="908.1" font-size="24.6" text-anchor="end" transform="rotate(-45 1313.2 908.1)" letter-spacing="0.5">Nup358</text>
<g fill="#f00">
<circle cx="833.2" cy="668.0" r="2.95"/>
<circle cx="832.8" cy="672.4" r="2.95"/>
<circle cx="835.8" cy="679.7" r="2.95"/>
<circle cx="832.5" cy="768.7" r="2.95"/>
<circle cx="834.5" cy="767.0" r="2.95"/>
<circle cx="828.6" cy="683.3" r="2.95"/>
<circle cx="832.9" cy="683.2" r="2.95"/>
<circle cx="836.8" cy="683.6" r="2.95"/>
<circle cx="824.4" cy="687.1" r="2.95"/>
<circle cx="828.4" cy="687.0" r="2.95"/>
<circle cx="832.4" cy="686.5" r="2.95"/>
<circle cx="836.7" cy="687.5" r="2.95"/>
<circle cx="840.5" cy="686.7" r="2.95"/>
<circle cx="824.8" cy="690.6" r="2.95"/>
<circle cx="828.8" cy="689.9" r="2.95"/>
<circle cx="833.1" cy="689.4" r="2.95"/>
<circle cx="837.1" cy="689.8" r="2.95"/>
<circle cx="840.5" cy="689.5" r="2.95"/>
<circle cx="828.6" cy="693.5" r="2.95"/>
<circle cx="832.5" cy="693.2" r="2.95"/>
<circle cx="836.9" cy="692.9" r="2.95"/>
<circle cx="827.4" cy="695.6" r="2.95"/>
<circle cx="831.1" cy="695.8" r="2.95"/>
<circle cx="835.6" cy="696.1" r="2.95"/>
<circle cx="828.6" cy="699.2" r="2.95"/>
<circle cx="832.7" cy="698.9" r="2.95"/>
<circle cx="837.0" cy="699.4" r="2.95"/>
<circle cx="840.6" cy="699.2" r="2.95"/>
<circle cx="821.4" cy="702.6" r="2.95"/>
<circle cx="825.6" cy="701.8" r="2.95"/>
<circle cx="829.8" cy="701.6" r="2.95"/>
<circle cx="833.4" cy="702.4" r="2.95"/>
<circle cx="837.2" cy="702.1" r="2.95"/>
<circle cx="841.1" cy="702.3" r="2.95"/>
<circle cx="845.7" cy="702.2" r="2.95"/>
<circle cx="812.3" cy="705.3" r="2.95"/>
<circle cx="816.2" cy="705.7" r="2.95"/>
<circle cx="820.1" cy="705.5" r="2.95"/>
<circle cx="824.3" cy="706.1" r="2.95"/>
<circle cx="828.1" cy="705.8" r="2.95"/>
<circle cx="831.7" cy="705.8" r="2.95"/>
<circle cx="836.2" cy="706.2" r="2.95"/>
<circle cx="840.4" cy="705.3" r="2.95"/>
<circle cx="844.0" cy="705.8" r="2.95"/>
<circle cx="847.8" cy="705.5" r="2.95"/>
<circle cx="851.9" cy="705.0" r="2.95"/>
<circle cx="810.6" cy="708.8" r="2.95"/>
<circle cx="814.7" cy="708.1" r="2.95"/>
<circle cx="818.9" cy="709.0" r="2.95"/>
<circle cx="822.7" cy="708.4" r="2.95"/>
<circle cx="827.0" cy="709.0" r="2.95"/>
<circle cx="831.3" cy="709.0" r="2.95"/>
<circle cx="834.9" cy="708.4" r="2.95"/>
<circle cx="838.9" cy="709.0" r="2.95"/>
<circle cx="843.4" cy="708.0" r="2.95"/>
<circle cx="846.8" cy="708.1" r="2.95"/>
<circle cx="850.9" cy="708.5" r="2.95"/>
<circle cx="855.2" cy="708.2" r="2.95"/>
<circle cx="811.6" cy="711.0" r="2.95"/>
<circle cx="815.9" cy="711.2" r="2.95"/>
<circle cx="820.4" cy="711.4" r="2.95"/>
<circle cx="824.1" cy="711.3" r="2.95"/>
<circle cx="828.2" cy="710.6" r="2.95"/>
<circle cx="832.4" cy="711.5" r="2.95"/>
<circle cx="836.4" cy="711.6" r="2.95"/>
<circle cx="840.0" cy="711.0" r="2.95"/>
<circle cx="843.8" cy="711.3" r="2.95"/>
<circle cx="847.8" cy="710.6" r="2.95"/>
<circle cx="851.9" cy="710.7" r="2.95"/>
<circle cx="817.3" cy="713.2" r="2.95"/>
<circle cx="821.0" cy="713.4" r="2.95"/>
<circle cx="825.1" cy="713.6" r="2.95"/>
<circle cx="829.0" cy="714.3" r="2.95"/>
<circle cx="833.5" cy="713.4" r="2.95"/>
<circle cx="837.2" cy="713.6" r="2.95"/>
<circle cx="841.3" cy="713.3" r="2.95"/>
<circle cx="845.7" cy="714.5" r="2.95"/>
<circle cx="849.4" cy="713.8" r="2.95"/>
<circle cx="817.0" cy="718.6" r="2.95"/>
<circle cx="821.3" cy="718.9" r="2.95"/>
<circle cx="825.7" cy="718.7" r="2.95"/>
<circle cx="829.0" cy="719.8" r="2.95"/>
<circle cx="833.4" cy="718.7" r="2.95"/>
<circle cx="837.5" cy="718.5" r="2.95"/>
<circle cx="841.5" cy="719.8" r="2.95"/>
<circle cx="845.8" cy="719.4" r="2.95"/>
<circle cx="817.2" cy="722.3" r="2.95"/>
<circle cx="821.1" cy="722.9" r="2.95"/>
<circle cx="825.4" cy="722.9" r="2.95"/>
<circle cx="829.3" cy="722.2" r="2.95"/>
<circle cx="833.7" cy="723.2" r="2.95"/>
<circle cx="837.7" cy="722.9" r="2.95"/>
<circle cx="841.7" cy="722.8" r="2.95"/>
<circle cx="845.2" cy="722.5" r="2.95"/>
<circle cx="817.9" cy="725.0" r="2.95"/>
<circle cx="821.7" cy="725.3" r="2.95"/>
<circle cx="825.9" cy="725.9" r="2.95"/>
<circle cx="830.5" cy="725.5" r="2.95"/>
<circle cx="834.4" cy="726.3" r="2.95"/>
<circle cx="838.5" cy="725.4" r="2.95"/>
<circle cx="841.9" cy="725.2" r="2.95"/>
<circle cx="845.9" cy="725.2" r="2.95"/>
<circle cx="820.2" cy="729.3" r="2.95"/>
<circle cx="824.3" cy="728.8" r="2.95"/>
<circle cx="828.2" cy="729.2" r="2.95"/>
<circle cx="831.8" cy="729.0" r="2.95"/>
<circle cx="836.4" cy="729.2" r="2.95"/>
<circle cx="840.3" cy="728.8" r="2.95"/>
<circle cx="843.9" cy="729.2" r="2.95"/>
<circle cx="821.9" cy="732.3" r="2.95"/>
<circle cx="826.5" cy="731.7" r="2.95"/>
<circle cx="830.0" cy="732.5" r="2.95"/>
<circle cx="834.3" cy="731.4" r="2.95"/>
<circle cx="837.8" cy="731.4" r="2.95"/>
<circle cx="842.4" cy="732.3" r="2.95"/>
<circle cx="845.8" cy="732.3" r="2.95"/>
<circle cx="829.1" cy="735.4" r="2.95"/>
<circle cx="832.6" cy="735.3" r="2.95"/>
<circle cx="836.5" cy="734.6" r="2.95"/>
<circle cx="825.8" cy="738.8" r="2.95"/>
<circle cx="829.4" cy="739.1" r="2.95"/>
<circle cx="833.4" cy="739.1" r="2.95"/>
<circle cx="837.7" cy="738.2" r="2.95"/>
<circle cx="825.9" cy="741.6" r="2.95"/>
<circle cx="829.9" cy="742.0" r="2.95"/>
<circle cx="833.9" cy="741.8" r="2.95"/>
<circle cx="837.8" cy="742.5" r="2.95"/>
<circle cx="842.0" cy="741.9" r="2.95"/>
<circle cx="828.8" cy="745.8" r="2.95"/>
<circle cx="832.7" cy="745.8" r="2.95"/>
<circle cx="836.8" cy="745.3" r="2.95"/>
<circle cx="828.8" cy="748.0" r="2.95"/>
<circle cx="832.7" cy="748.2" r="2.95"/>
<circle cx="836.4" cy="749.0" r="2.95"/>
<circle cx="828.9" cy="751.9" r="2.95"/>
<circle cx="833.3" cy="752.0" r="2.95"/>
<circle cx="837.0" cy="752.0" r="2.95"/>
<circle cx="829.7" cy="755.7" r="2.95"/>
<circle cx="833.4" cy="755.4" r="2.95"/>
<circle cx="831.2" cy="757.9" r="2.95"/>
<circle cx="835.7" cy="758.2" r="2.95"/>
<circle cx="900.3" cy="688.4" r="2.95"/>
<circle cx="886.2" cy="709.2" r="2.95"/>
<circle cx="892.0" cy="709.4" r="2.95"/>
<circle cx="897.6" cy="708.9" r="2.95"/>
<circle cx="903.4" cy="706.7" r="2.95"/>
<circle cx="909.0" cy="708.5" r="2.95"/>
<circle cx="903.4" cy="713.2" r="2.95"/>
<circle cx="909.0" cy="714.8" r="2.95"/>
<circle cx="914.7" cy="712.5" r="2.95"/>
<circle cx="880.6" cy="717.6" r="2.95"/>
<circle cx="886.2" cy="717.8" r="2.95"/>
<circle cx="892.0" cy="717.8" r="2.95"/>
<circle cx="897.6" cy="717.3" r="2.95"/>
<circle cx="914.7" cy="717.8" r="2.95"/>
<circle cx="920.5" cy="717.2" r="2.95"/>
<circle cx="897.6" cy="721.5" r="2.95"/>
<circle cx="909.0" cy="721.2" r="2.95"/>
<circle cx="886.2" cy="729.9" r="2.95"/>
<circle cx="897.6" cy="730.1" r="2.95"/>
<circle cx="909.0" cy="729.2" r="2.95"/>
<circle cx="892.0" cy="732.6" r="2.95"/>
<circle cx="897.6" cy="735.2" r="2.95"/>
<circle cx="903.4" cy="735.0" r="2.95"/>
<circle cx="909.0" cy="735.0" r="2.95"/>
<circle cx="892.0" cy="739.2" r="2.95"/>
<circle cx="897.6" cy="743.0" r="2.95"/>
<circle cx="903.4" cy="742.7" r="2.95"/>
<circle cx="903.4" cy="747.3" r="2.95"/>
<circle cx="909.0" cy="749.0" r="2.95"/>
<circle cx="914.7" cy="749.4" r="2.95"/>
<circle cx="892.0" cy="751.0" r="2.95"/>
<circle cx="897.6" cy="752.6" r="2.95"/>
<circle cx="903.4" cy="753.9" r="2.95"/>
<circle cx="900.3" cy="762.0" r="2.95"/>
<circle cx="979.1" cy="771.8" r="2.95"/>
<circle cx="974.9" cy="773.8" r="2.95"/>
<circle cx="970.3" cy="774.7" r="2.95"/>
<circle cx="965.6" cy="774.7" r="2.95"/>
<circle cx="961.2" cy="774.4" r="2.95"/>
<circle cx="956.9" cy="776.1" r="2.95"/>
<circle cx="979.1" cy="778.1" r="2.95"/>
<circle cx="966.1" cy="779.8" r="2.95"/>
<circle cx="970.3" cy="781.2" r="2.95"/>
<circle cx="974.9" cy="782.1" r="2.95"/>
<circle cx="961.2" cy="783.1" r="2.95"/>
<circle cx="956.9" cy="784.4" r="2.95"/>
<circle cx="983.5" cy="786.8" r="2.95"/>
<circle cx="966.1" cy="787.7" r="2.95"/>
<circle cx="974.9" cy="788.1" r="2.95"/>
<circle cx="956.9" cy="790.0" r="2.95"/>
<circle cx="987.9" cy="790.5" r="2.95"/>
<circle cx="979.1" cy="795.6" r="2.95"/>
<circle cx="961.2" cy="799.3" r="2.95"/>
<circle cx="956.9" cy="800.6" r="2.95"/>
<circle cx="970.3" cy="801.1" r="2.95"/>
<circle cx="974.9" cy="803.0" r="2.95"/>
<circle cx="952.2" cy="804.6" r="2.95"/>
<circle cx="983.5" cy="804.6" r="2.95"/>
<circle cx="970.3" cy="808.1" r="2.95"/>
<circle cx="961.2" cy="808.5" r="2.95"/>
<circle cx="956.9" cy="809.9" r="2.95"/>
<circle cx="965.6" cy="809.9" r="2.95"/>
<circle cx="979.1" cy="809.6" r="2.95"/>
<circle cx="974.9" cy="812.2" r="2.95"/>
<circle cx="961.2" cy="813.6" r="2.95"/>
<circle cx="970.3" cy="816.9" r="2.95"/>
<circle cx="965.6" cy="821.0" r="2.95"/>
<circle cx="1035.6" cy="557.4" r="2.95"/>
<circle cx="1035.6" cy="575.1" r="2.95"/>
<circle cx="1035.6" cy="583.3" r="2.95"/>
<circle cx="1035.6" cy="607.9" r="2.95"/>
<circle cx="1030.2" cy="622.0" r="2.95"/>
<circle cx="1040.8" cy="621.5" r="2.95"/>
<circle cx="1019.7" cy="624.4" r="2.95"/>
<circle cx="1051.4" cy="626.3" r="2.95"/>
<circle cx="1030.2" cy="629.1" r="2.95"/>
<circle cx="1040.8" cy="628.0" r="2.95"/>
<circle cx="1030.2" cy="637.7" r="2.95"/>
<circle cx="1040.8" cy="638.4" r="2.95"/>
<circle cx="1030.2" cy="645.3" r="2.95"/>
<circle cx="1019.7" cy="646.6" r="2.95"/>
<circle cx="1040.8" cy="647.5" r="2.95"/>
<circle cx="1030.2" cy="651.4" r="2.95"/>
<circle cx="1040.8" cy="655.2" r="2.95"/>
<circle cx="1030.2" cy="658.9" r="2.95"/>
<circle cx="1035.6" cy="676.4" r="2.95"/>
<circle cx="1035.6" cy="686.4" r="2.95"/>
<circle cx="1102.8" cy="532.1" r="2.95"/>
<circle cx="1102.8" cy="537.9" r="2.95"/>
<circle cx="1118.8" cy="554.1" r="2.95"/>
<circle cx="1097.7" cy="557.8" r="2.95"/>
<circle cx="1087.1" cy="559.5" r="2.95"/>
<circle cx="1118.8" cy="560.6" r="2.95"/>
<circle cx="1108.2" cy="569.7" r="2.95"/>
<circle cx="1097.7" cy="571.4" r="2.95"/>
<circle cx="1108.2" cy="584.4" r="2.95"/>
<circle cx="1097.7" cy="585.9" r="2.95"/>
<circle cx="1102.8" cy="594.5" r="2.95"/>
<circle cx="1108.2" cy="600.6" r="2.95"/>
<circle cx="1097.7" cy="604.7" r="2.95"/>
<circle cx="1108.2" cy="608.1" r="2.95"/>
<circle cx="1097.7" cy="612.5" r="2.95"/>
<circle cx="1118.8" cy="622.0" r="2.95"/>
<circle cx="1087.1" cy="625.9" r="2.95"/>
<circle cx="1108.2" cy="626.9" r="2.95"/>
<circle cx="1087.1" cy="633.0" r="2.95"/>
<circle cx="1097.7" cy="634.5" r="2.95"/>
<circle cx="1118.8" cy="642.1" r="2.95"/>
<circle cx="1087.1" cy="644.2" r="2.95"/>
<circle cx="1097.7" cy="646.0" r="2.95"/>
<circle cx="1087.1" cy="649.6" r="2.95"/>
<circle cx="1118.8" cy="649.6" r="2.95"/>
<circle cx="1108.2" cy="650.1" r="2.95"/>
<circle cx="1097.7" cy="655.5" r="2.95"/>
<circle cx="1108.2" cy="659.4" r="2.95"/>
<circle cx="1087.1" cy="662.2" r="2.95"/>
<circle cx="1097.7" cy="661.9" r="2.95"/>
<circle cx="1102.8" cy="668.6" r="2.95"/>
<circle cx="1108.2" cy="678.1" r="2.95"/>
<circle cx="1097.7" cy="681.6" r="2.95"/>
<circle cx="1102.8" cy="690.7" r="2.95"/>
<circle cx="1097.7" cy="696.5" r="2.95"/>
<circle cx="1108.2" cy="697.2" r="2.95"/>
<circle cx="1102.8" cy="705.4" r="2.95"/>
<circle cx="1108.2" cy="712.7" r="2.95"/>
<circle cx="1097.7" cy="716.0" r="2.95"/>
<circle cx="1165.0" cy="754.5" r="2.95"/>
<circle cx="1175.2" cy="754.2" r="2.95"/>
<circle cx="1170.2" cy="762.1" r="2.95"/>
<circle cx="1150.5" cy="764.2" r="2.95"/>
<circle cx="1190.1" cy="764.7" r="2.95"/>
<circle cx="1160.1" cy="766.2" r="2.95"/>
<circle cx="1180.0" cy="767.2" r="2.95"/>
<circle cx="1170.2" cy="768.4" r="2.95"/>
<circle cx="1190.1" cy="771.0" r="2.95"/>
<circle cx="1150.5" cy="772.2" r="2.95"/>
<circle cx="1160.1" cy="774.7" r="2.95"/>
<circle cx="1170.2" cy="774.1" r="2.95"/>
<circle cx="1180.0" cy="774.7" r="2.95"/>
<circle cx="1150.5" cy="781.6" r="2.95"/>
<circle cx="1190.1" cy="781.1" r="2.95"/>
<circle cx="1180.0" cy="782.3" r="2.95"/>
<circle cx="1160.1" cy="783.8" r="2.95"/>
<circle cx="1150.5" cy="786.4" r="2.95"/>
<circle cx="1180.0" cy="789.8" r="2.95"/>
<circle cx="1190.1" cy="790.1" r="2.95"/>
<circle cx="1160.1" cy="791.6" r="2.95"/>
<circle cx="1150.5" cy="792.6" r="2.95"/>
<circle cx="1170.2" cy="794.9" r="2.95"/>
<circle cx="1180.0" cy="804.0" r="2.95"/>
<circle cx="1170.2" cy="805.1" r="2.95"/>
<circle cx="1170.2" cy="815.1" r="2.95"/>
<circle cx="1233.7" cy="763.5" r="2.95"/>
<circle cx="1241.4" cy="765.1" r="2.95"/>
<circle cx="1237.7" cy="767.4" r="2.95"/>
<circle cx="1225.7" cy="772.9" r="2.95"/>
<circle cx="1229.5" cy="772.6" r="2.95"/>
<circle cx="1233.7" cy="772.9" r="2.95"/>
<circle cx="1249.7" cy="773.7" r="2.95"/>
<circle cx="1237.7" cy="775.1" r="2.95"/>
<circle cx="1241.4" cy="776.6" r="2.95"/>
<circle cx="1245.9" cy="776.6" r="2.95"/>
<circle cx="1221.7" cy="778.9" r="2.95"/>
<circle cx="1249.7" cy="779.6" r="2.95"/>
<circle cx="1245.9" cy="783.4" r="2.95"/>
<circle cx="1221.7" cy="784.1" r="2.95"/>
<circle cx="1225.7" cy="785.6" r="2.95"/>
<circle cx="1229.5" cy="785.6" r="2.95"/>
<circle cx="1241.4" cy="784.9" r="2.95"/>
<circle cx="1237.7" cy="786.7" r="2.95"/>
<circle cx="1249.7" cy="785.6" r="2.95"/>
<circle cx="1254.1" cy="785.6" r="2.95"/>
<circle cx="1257.1" cy="787.9" r="2.95"/>
<circle cx="1219.7" cy="789.4" r="2.95"/>
<circle cx="1233.7" cy="788.6" r="2.95"/>
<circle cx="1245.2" cy="788.2" r="2.95"/>
<circle cx="1225.7" cy="790.1" r="2.95"/>
<circle cx="1257.1" cy="797.6" r="2.95"/>
<circle cx="1254.1" cy="799.1" r="2.95"/>
<circle cx="1249.7" cy="799.1" r="2.95"/>
<circle cx="1221.7" cy="802.1" r="2.95"/>
<circle cx="1225.7" cy="799.1" r="2.95"/>
<circle cx="1229.5" cy="799.8" r="2.95"/>
<circle cx="1233.7" cy="799.8" r="2.95"/>
<circle cx="1237.7" cy="798.3" r="2.95"/>
<circle cx="1241.4" cy="801.3" r="2.95"/>
<circle cx="1245.9" cy="804.3" r="2.95"/>
<circle cx="1249.7" cy="802.8" r="2.95"/>
<circle cx="1237.7" cy="804.3" r="2.95"/>
<circle cx="1233.7" cy="805.8" r="2.95"/>
<circle cx="1229.5" cy="805.8" r="2.95"/>
<circle cx="1225.7" cy="807.3" r="2.95"/>
<circle cx="1245.9" cy="809.6" r="2.95"/>
<circle cx="1249.7" cy="811.5" r="2.95"/>
<circle cx="1229.5" cy="812.5" r="2.95"/>
<circle cx="1241.4" cy="814.8" r="2.95"/>
<circle cx="1233.7" cy="815.5" r="2.95"/>
<circle cx="1237.7" cy="811.8" r="2.95"/>
<circle cx="1239.2" cy="823.8" r="2.95"/>
<circle cx="1235.4" cy="825.3" r="2.95"/>
<circle cx="1241.4" cy="796.1" r="2.95"/>
<circle cx="1219.7" cy="796.1" r="2.95"/>
<circle cx="1314.9" cy="767.4" r="2.95"/>
<circle cx="1305.0" cy="768.4" r="2.95"/>
<circle cx="1324.9" cy="771.7" r="2.95"/>
<circle cx="1305.0" cy="774.4" r="2.95"/>
<circle cx="1314.9" cy="775.4" r="2.95"/>
<circle cx="1285.1" cy="775.4" r="2.95"/>
<circle cx="1295.0" cy="779.6" r="2.95"/>
<circle cx="1305.0" cy="780.7" r="2.95"/>
<circle cx="1324.9" cy="781.4" r="2.95"/>
<circle cx="1314.9" cy="784.6" r="2.95"/>
<circle cx="1285.1" cy="788.6" r="2.95"/>
<circle cx="1295.0" cy="790.1" r="2.95"/>
<circle cx="1295.0" cy="797.6" r="2.95"/>
<circle cx="1305.0" cy="798.3" r="2.95"/>
<circle cx="1285.1" cy="801.3" r="2.95"/>
<circle cx="1314.9" cy="800.6" r="2.95"/>
<circle cx="1324.9" cy="801.3" r="2.95"/>
<circle cx="1305.0" cy="804.3" r="2.95"/>
<circle cx="1314.9" cy="805.8" r="2.95"/>
<circle cx="1295.0" cy="809.1" r="2.95"/>
<circle cx="1314.9" cy="811.5" r="2.95"/>
<circle cx="1305.0" cy="814.0" r="2.95"/>
<circle cx="1314.9" cy="817.5" r="2.95"/>
<circle cx="1295.0" cy="821.2" r="2.95"/>
</g><g stroke="#000" stroke-width="5.2">
<path d="M810.8 716.4H855.8"/>
<path d="M878.2 725.5H923.4"/>
<path d="M945.6 793.4H990.8"/>
<path d="M1013.0 633.4H1057.9"/>
<path d="M1080.6 637.3H1125.3"/>
<path d="M1147.6 778.0H1192.8"/>
<path d="M1215.3 792.2H1259.8"/>
<path d="M1282.6 792.8H1327.7"/>
</g>
</g></svg></body></html>
